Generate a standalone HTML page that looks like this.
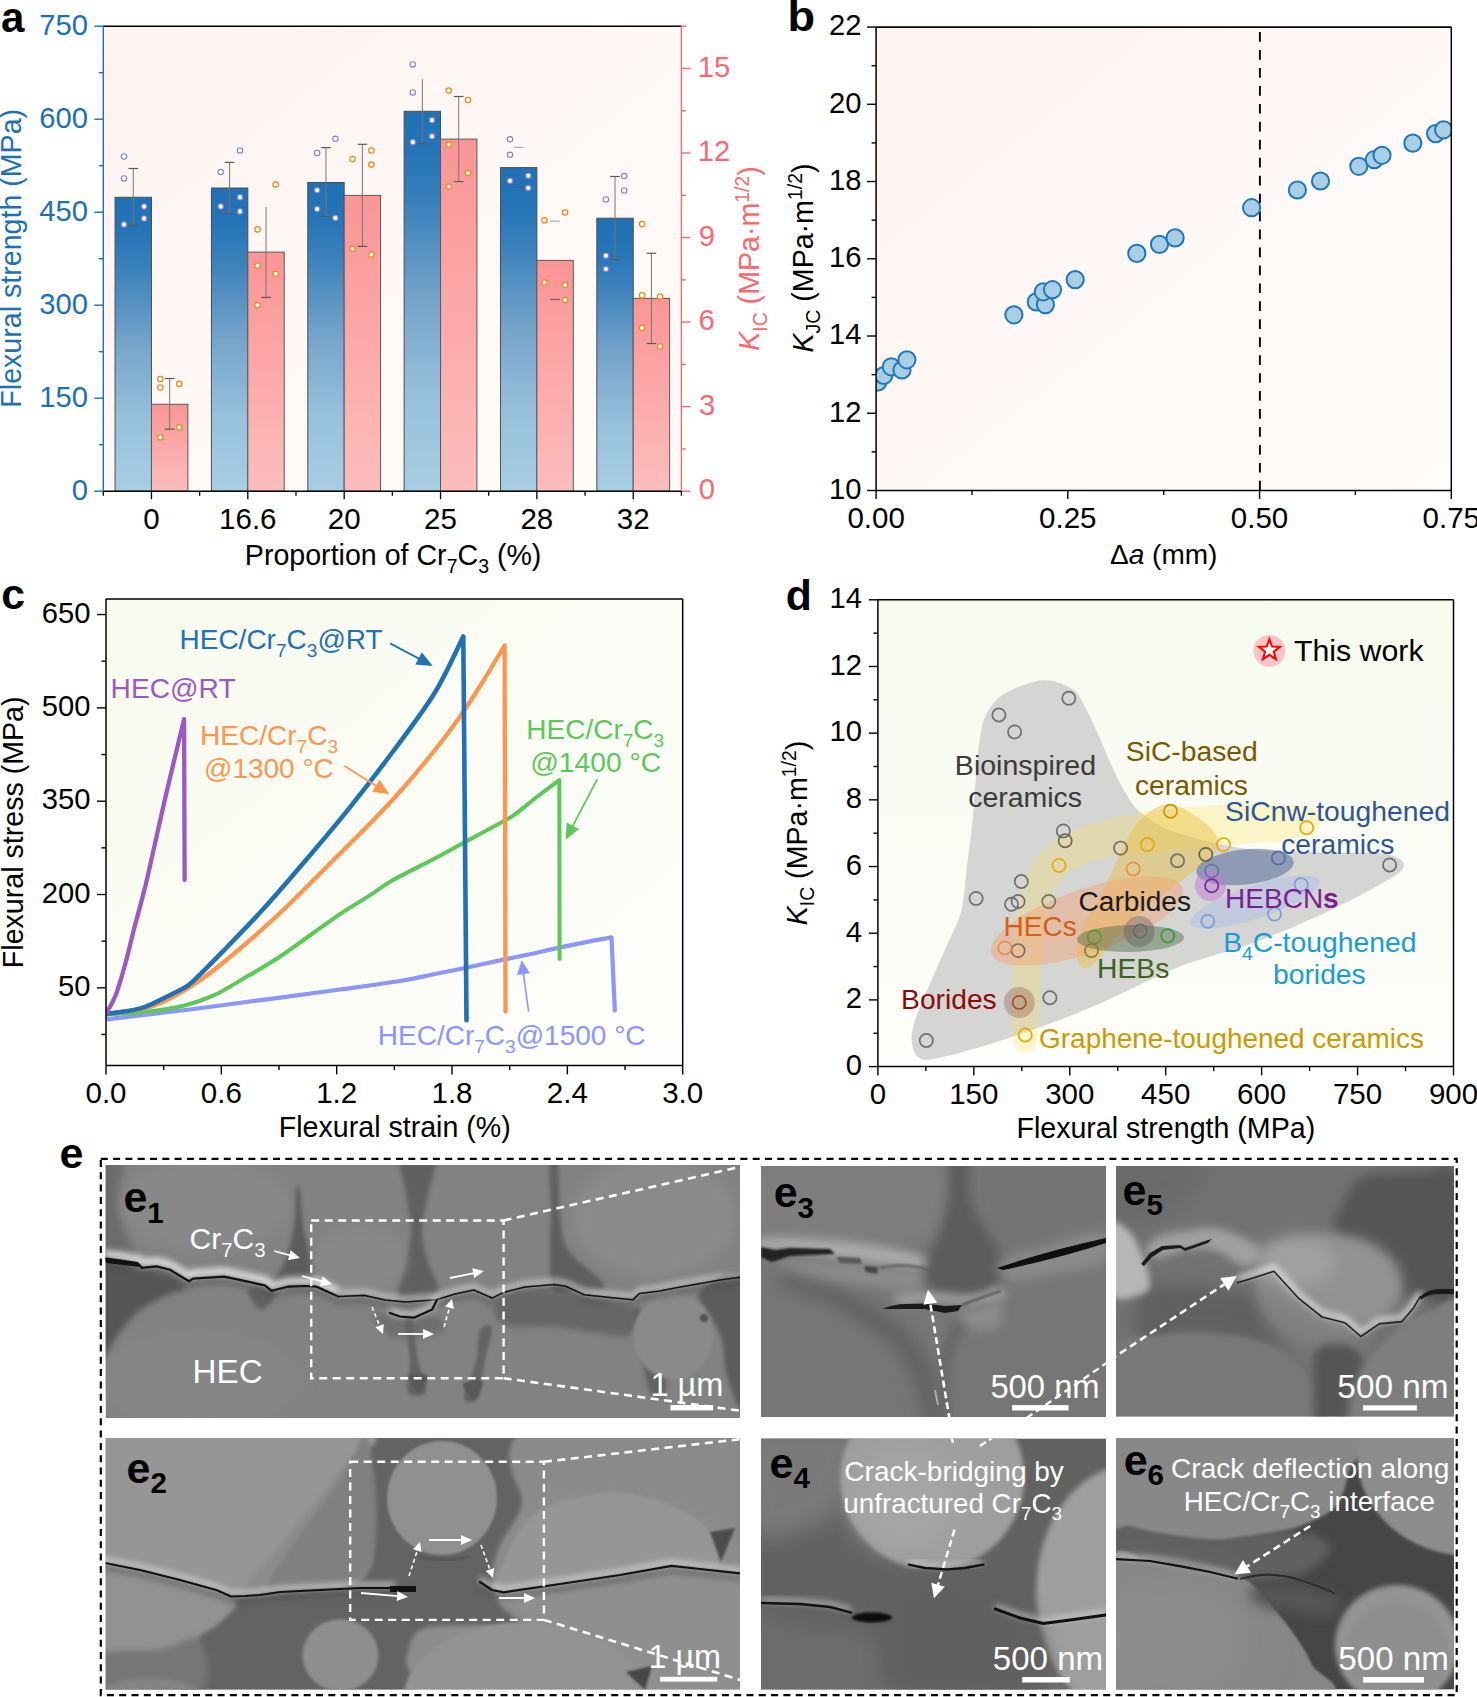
<!DOCTYPE html>
<html><head><meta charset="utf-8"><title>Figure</title>
<style>html,body{margin:0;padding:0;background:#fff;width:1477px;height:1697px;overflow:hidden}
svg{display:block} text{font-family:"Liberation Sans", sans-serif}</style></head>
<body>
<svg width="1477" height="1697" viewBox="0 0 1477 1697" font-family='"Liberation Sans", sans-serif'>
<defs><linearGradient id="bgA" x1="0" y1="0" x2="1" y2="1">
      <stop offset="0" stop-color="#fdf3f0"/><stop offset="0.5" stop-color="#fef8f6"/><stop offset="1" stop-color="#fffcf9"/></linearGradient>
      <linearGradient id="gBlue" x1="0" y1="0" x2="0" y2="1">
      <stop offset="0" stop-color="#2171b5"/><stop offset="0.1" stop-color="#2373b6"/><stop offset="0.25" stop-color="#3c82bc"/><stop offset="0.5" stop-color="#76a4ca"/><stop offset="0.75" stop-color="#96c0db"/><stop offset="1" stop-color="#a8cee4"/></linearGradient>
      <linearGradient id="gPink" x1="0" y1="0" x2="0" y2="1">
      <stop offset="0" stop-color="#fb9595"/><stop offset="1" stop-color="#fcbdbd"/></linearGradient><linearGradient id="bgB" x1="0" y1="0" x2="1" y2="1">
      <stop offset="0" stop-color="#fdf3f0"/><stop offset="0.5" stop-color="#fef8f6"/><stop offset="1" stop-color="#fffcf9"/></linearGradient>
      <clipPath id="clipB"><rect x="876.1" y="27.05" width="575.2" height="463.45"/></clipPath><linearGradient id="bgC" x1="0" y1="0" x2="1" y2="1">
      <stop offset="0" stop-color="#f8fbef"/><stop offset="0.5" stop-color="#fbfcf5"/><stop offset="1" stop-color="#fefefc"/></linearGradient>
      <clipPath id="clipC"><rect x="106" y="599" width="576.7" height="466.6"/></clipPath><linearGradient id="bgD" x1="0" y1="0" x2="0" y2="1">
      <stop offset="0" stop-color="#f7fbee"/><stop offset="0.6" stop-color="#fbfcf5"/><stop offset="1" stop-color="#fefefc"/></linearGradient>
      <clipPath id="clipD"><rect x="877.9" y="599.8" width="575.6" height="466.8"/></clipPath><filter id="b0_8" x="-50%" y="-50%" width="200%" height="200%"><feGaussianBlur stdDeviation="0.8"/></filter><filter id="b1" x="-50%" y="-50%" width="200%" height="200%"><feGaussianBlur stdDeviation="1"/></filter><filter id="b1_2" x="-50%" y="-50%" width="200%" height="200%"><feGaussianBlur stdDeviation="1.2"/></filter><filter id="b1_5" x="-50%" y="-50%" width="200%" height="200%"><feGaussianBlur stdDeviation="1.5"/></filter><filter id="b2" x="-50%" y="-50%" width="200%" height="200%"><feGaussianBlur stdDeviation="2"/></filter><filter id="b2_5" x="-50%" y="-50%" width="200%" height="200%"><feGaussianBlur stdDeviation="2.5"/></filter><filter id="b3" x="-50%" y="-50%" width="200%" height="200%"><feGaussianBlur stdDeviation="3"/></filter><filter id="b4" x="-50%" y="-50%" width="200%" height="200%"><feGaussianBlur stdDeviation="4"/></filter><filter id="b5" x="-50%" y="-50%" width="200%" height="200%"><feGaussianBlur stdDeviation="5"/></filter><filter id="b6" x="-50%" y="-50%" width="200%" height="200%"><feGaussianBlur stdDeviation="6"/></filter><filter id="b8" x="-50%" y="-50%" width="200%" height="200%"><feGaussianBlur stdDeviation="8"/></filter><filter id="b10" x="-50%" y="-50%" width="200%" height="200%"><feGaussianBlur stdDeviation="10"/></filter><filter id="b12" x="-50%" y="-50%" width="200%" height="200%"><feGaussianBlur stdDeviation="12"/></filter><filter id="b14" x="-50%" y="-50%" width="200%" height="200%"><feGaussianBlur stdDeviation="14"/></filter><filter id="b20" x="-50%" y="-50%" width="200%" height="200%"><feGaussianBlur stdDeviation="20"/></filter><clipPath id="ce1"><rect x="105.6" y="1165" width="634.4" height="253"/></clipPath><clipPath id="ce2"><rect x="105.6" y="1438" width="634.4" height="251.6"/></clipPath><clipPath id="ce3"><rect x="761" y="1166" width="345" height="251"/></clipPath><clipPath id="ce4"><rect x="761" y="1438.4" width="345" height="251.2"/></clipPath><clipPath id="ce5"><rect x="1116" y="1166" width="338" height="250.5"/></clipPath><clipPath id="ce6"><rect x="1116" y="1438.3" width="338" height="251.3"/></clipPath></defs>
<rect width="1477" height="1697" fill="#fff"/>
<rect x="103.3" y="26.2" width="578.1" height="465" fill="url(#bgA)" />
<rect x="115.07" y="197.3" width="36.4" height="293.9" fill="url(#gBlue)" stroke="#4d4d4d" stroke-width="1"/>
<rect x="151.47" y="404.3" width="36.4" height="86.9" fill="url(#gPink)" stroke="#5a5a5a" stroke-width="1"/>
<rect x="211.42" y="188" width="36.4" height="303.2" fill="url(#gBlue)" stroke="#4d4d4d" stroke-width="1"/>
<rect x="247.82" y="252.1" width="36.4" height="239.1" fill="url(#gPink)" stroke="#5a5a5a" stroke-width="1"/>
<rect x="307.78" y="182.5" width="36.4" height="308.7" fill="url(#gBlue)" stroke="#4d4d4d" stroke-width="1"/>
<rect x="344.18" y="195.4" width="36.4" height="295.8" fill="url(#gPink)" stroke="#5a5a5a" stroke-width="1"/>
<rect x="404.13" y="111.3" width="36.4" height="379.9" fill="url(#gBlue)" stroke="#4d4d4d" stroke-width="1"/>
<rect x="440.53" y="139.1" width="36.4" height="352.1" fill="url(#gPink)" stroke="#5a5a5a" stroke-width="1"/>
<rect x="500.48" y="167.6" width="36.4" height="323.6" fill="url(#gBlue)" stroke="#4d4d4d" stroke-width="1"/>
<rect x="536.88" y="260.4" width="36.4" height="230.8" fill="url(#gPink)" stroke="#5a5a5a" stroke-width="1"/>
<rect x="596.83" y="218.2" width="36.4" height="273" fill="url(#gBlue)" stroke="#4d4d4d" stroke-width="1"/>
<rect x="633.23" y="298.4" width="36.4" height="192.8" fill="url(#gPink)" stroke="#5a5a5a" stroke-width="1"/>
<line x1="133.28" y1="168.5" x2="133.28" y2="225.6" stroke="#777" stroke-width="1" />
<line x1="128.47" y1="168.5" x2="138.08" y2="168.5" stroke="#5a5a5a" stroke-width="1.2" />
<line x1="128.47" y1="225.6" x2="138.08" y2="225.6" stroke="#5a5a5a" stroke-width="1.2" />
<line x1="169.67" y1="378.5" x2="169.67" y2="429.2" stroke="#777" stroke-width="1" />
<line x1="164.87" y1="378.5" x2="174.47" y2="378.5" stroke="#5a5a5a" stroke-width="1.2" />
<line x1="164.87" y1="429.2" x2="174.47" y2="429.2" stroke="#5a5a5a" stroke-width="1.2" />
<line x1="229.62" y1="162.4" x2="229.62" y2="213.4" stroke="#777" stroke-width="1" />
<line x1="224.82" y1="162.4" x2="234.43" y2="162.4" stroke="#5a5a5a" stroke-width="1.2" />
<line x1="224.82" y1="213.4" x2="234.43" y2="213.4" stroke="#5a5a5a" stroke-width="1.2" />
<line x1="266.02" y1="207" x2="266.02" y2="297.4" stroke="#777" stroke-width="1" />
<line x1="261.22" y1="297.4" x2="270.82" y2="297.4" stroke="#5a5a5a" stroke-width="1.2" />
<line x1="325.98" y1="147.6" x2="325.98" y2="216.4" stroke="#777" stroke-width="1" />
<line x1="321.18" y1="147.6" x2="330.78" y2="147.6" stroke="#5a5a5a" stroke-width="1.2" />
<line x1="321.18" y1="216.4" x2="330.78" y2="216.4" stroke="#5a5a5a" stroke-width="1.2" />
<line x1="362.38" y1="144.3" x2="362.38" y2="246.4" stroke="#777" stroke-width="1" />
<line x1="357.57" y1="144.3" x2="367.18" y2="144.3" stroke="#5a5a5a" stroke-width="1.2" />
<line x1="357.57" y1="246.4" x2="367.18" y2="246.4" stroke="#5a5a5a" stroke-width="1.2" />
<line x1="422.33" y1="79.2" x2="422.33" y2="143.6" stroke="#777" stroke-width="1" />
<line x1="417.53" y1="143.6" x2="427.13" y2="143.6" stroke="#5a5a5a" stroke-width="1.2" />
<line x1="458.73" y1="96.5" x2="458.73" y2="181.6" stroke="#777" stroke-width="1" />
<line x1="453.93" y1="96.5" x2="463.53" y2="96.5" stroke="#5a5a5a" stroke-width="1.2" />
<line x1="453.93" y1="181.6" x2="463.53" y2="181.6" stroke="#5a5a5a" stroke-width="1.2" />
<line x1="513.88" y1="147.3" x2="523.47" y2="147.3" stroke="#9a9a9a" stroke-width="1" />
<line x1="513.88" y1="187.3" x2="523.47" y2="187.3" stroke="#5a5a5a" stroke-width="1" />
<line x1="550.28" y1="221.2" x2="559.88" y2="221.2" stroke="#9a9a9a" stroke-width="1" />
<line x1="550.28" y1="299.4" x2="559.88" y2="299.4" stroke="#5a5a5a" stroke-width="1" />
<line x1="615.02" y1="176.5" x2="615.02" y2="259.4" stroke="#777" stroke-width="1" />
<line x1="610.23" y1="176.5" x2="619.82" y2="176.5" stroke="#5a5a5a" stroke-width="1.2" />
<line x1="610.23" y1="259.4" x2="619.82" y2="259.4" stroke="#5a5a5a" stroke-width="1.2" />
<line x1="651.43" y1="253.3" x2="651.43" y2="343.5" stroke="#777" stroke-width="1" />
<line x1="646.63" y1="253.3" x2="656.23" y2="253.3" stroke="#5a5a5a" stroke-width="1.2" />
<line x1="646.63" y1="343.5" x2="656.23" y2="343.5" stroke="#5a5a5a" stroke-width="1.2" />
<circle cx="124" cy="156.5" r="2.7" fill="#fff" stroke="#7f7fd8" stroke-width="1.1" />
<circle cx="124" cy="178.4" r="2.7" fill="#fff" stroke="#7f7fd8" stroke-width="1.1" />
<circle cx="144.1" cy="206.5" r="2.7" fill="#fff" stroke="#7f7fd8" stroke-width="1.1" />
<circle cx="144.1" cy="218.5" r="2.7" fill="#fff" stroke="#7f7fd8" stroke-width="1.1" />
<circle cx="124" cy="224.5" r="2.7" fill="#fff" stroke="#7f7fd8" stroke-width="1.1" />
<circle cx="240" cy="150.4" r="2.7" fill="#fff" stroke="#7f7fd8" stroke-width="1.1" />
<circle cx="220.7" cy="172.1" r="2.7" fill="#fff" stroke="#7f7fd8" stroke-width="1.1" />
<circle cx="240" cy="197.3" r="2.7" fill="#fff" stroke="#7f7fd8" stroke-width="1.1" />
<circle cx="220.7" cy="206.5" r="2.7" fill="#fff" stroke="#7f7fd8" stroke-width="1.1" />
<circle cx="240" cy="211.5" r="2.7" fill="#fff" stroke="#7f7fd8" stroke-width="1.1" />
<circle cx="335.4" cy="138.8" r="2.7" fill="#fff" stroke="#7f7fd8" stroke-width="1.1" />
<circle cx="317.1" cy="153" r="2.7" fill="#fff" stroke="#7f7fd8" stroke-width="1.1" />
<circle cx="317.1" cy="190.2" r="2.7" fill="#fff" stroke="#7f7fd8" stroke-width="1.1" />
<circle cx="317.1" cy="209.1" r="2.7" fill="#fff" stroke="#7f7fd8" stroke-width="1.1" />
<circle cx="335.4" cy="218" r="2.7" fill="#fff" stroke="#7f7fd8" stroke-width="1.1" />
<circle cx="412.8" cy="64.4" r="2.7" fill="#fff" stroke="#7f7fd8" stroke-width="1.1" />
<circle cx="412.8" cy="92.4" r="2.7" fill="#fff" stroke="#7f7fd8" stroke-width="1.1" />
<circle cx="432" cy="120.2" r="2.7" fill="#fff" stroke="#7f7fd8" stroke-width="1.1" />
<circle cx="432" cy="136.3" r="2.7" fill="#fff" stroke="#7f7fd8" stroke-width="1.1" />
<circle cx="412.8" cy="142.2" r="2.7" fill="#fff" stroke="#7f7fd8" stroke-width="1.1" />
<circle cx="510" cy="139.3" r="2.7" fill="#fff" stroke="#7f7fd8" stroke-width="1.1" />
<circle cx="510" cy="154.8" r="2.7" fill="#fff" stroke="#7f7fd8" stroke-width="1.1" />
<circle cx="528.3" cy="175.7" r="2.7" fill="#fff" stroke="#7f7fd8" stroke-width="1.1" />
<circle cx="510" cy="180.8" r="2.7" fill="#fff" stroke="#7f7fd8" stroke-width="1.1" />
<circle cx="528.3" cy="187.9" r="2.7" fill="#fff" stroke="#7f7fd8" stroke-width="1.1" />
<circle cx="624.2" cy="176.1" r="2.7" fill="#fff" stroke="#7f7fd8" stroke-width="1.1" />
<circle cx="624.2" cy="190.5" r="2.7" fill="#fff" stroke="#7f7fd8" stroke-width="1.1" />
<circle cx="605.9" cy="199.5" r="2.7" fill="#fff" stroke="#7f7fd8" stroke-width="1.1" />
<circle cx="605.9" cy="255.7" r="2.7" fill="#fff" stroke="#7f7fd8" stroke-width="1.1" />
<circle cx="605.9" cy="269.1" r="2.7" fill="#fff" stroke="#7f7fd8" stroke-width="1.1" />
<circle cx="160.3" cy="379" r="2.7" fill="#fff" stroke="#f5870f" stroke-width="1.2" />
<circle cx="160.3" cy="387.6" r="2.7" fill="#fff" stroke="#f5870f" stroke-width="1.2" />
<circle cx="179.2" cy="383.9" r="2.7" fill="#fff" stroke="#f5870f" stroke-width="1.2" />
<circle cx="179.2" cy="427.4" r="2.7" fill="#fff" stroke="#f5870f" stroke-width="1.2" />
<circle cx="160.3" cy="437.4" r="2.7" fill="#fff" stroke="#f5870f" stroke-width="1.2" />
<circle cx="275.7" cy="184.5" r="2.7" fill="#fff" stroke="#f5870f" stroke-width="1.2" />
<circle cx="257.6" cy="229.4" r="2.7" fill="#fff" stroke="#f5870f" stroke-width="1.2" />
<circle cx="257.6" cy="265.7" r="2.7" fill="#fff" stroke="#f5870f" stroke-width="1.2" />
<circle cx="275.7" cy="273.8" r="2.7" fill="#fff" stroke="#f5870f" stroke-width="1.2" />
<circle cx="257.6" cy="305.1" r="2.7" fill="#fff" stroke="#f5870f" stroke-width="1.2" />
<circle cx="371.4" cy="150.6" r="2.7" fill="#fff" stroke="#f5870f" stroke-width="1.2" />
<circle cx="352.5" cy="159.1" r="2.7" fill="#fff" stroke="#f5870f" stroke-width="1.2" />
<circle cx="371.4" cy="164.6" r="2.7" fill="#fff" stroke="#f5870f" stroke-width="1.2" />
<circle cx="352.5" cy="248.9" r="2.7" fill="#fff" stroke="#f5870f" stroke-width="1.2" />
<circle cx="371.4" cy="254.6" r="2.7" fill="#fff" stroke="#f5870f" stroke-width="1.2" />
<circle cx="448.7" cy="90.6" r="2.7" fill="#fff" stroke="#f5870f" stroke-width="1.2" />
<circle cx="468" cy="100.1" r="2.7" fill="#fff" stroke="#f5870f" stroke-width="1.2" />
<circle cx="448.7" cy="144.6" r="2.7" fill="#fff" stroke="#f5870f" stroke-width="1.2" />
<circle cx="468" cy="173" r="2.7" fill="#fff" stroke="#f5870f" stroke-width="1.2" />
<circle cx="448.7" cy="186.5" r="2.7" fill="#fff" stroke="#f5870f" stroke-width="1.2" />
<circle cx="565.1" cy="212.5" r="2.7" fill="#fff" stroke="#f5870f" stroke-width="1.2" />
<circle cx="544.4" cy="220.4" r="2.7" fill="#fff" stroke="#f5870f" stroke-width="1.2" />
<circle cx="544.4" cy="282.6" r="2.7" fill="#fff" stroke="#f5870f" stroke-width="1.2" />
<circle cx="565.1" cy="285" r="2.7" fill="#fff" stroke="#f5870f" stroke-width="1.2" />
<circle cx="565.1" cy="299.8" r="2.7" fill="#fff" stroke="#f5870f" stroke-width="1.2" />
<circle cx="642.1" cy="224.1" r="2.7" fill="#fff" stroke="#f5870f" stroke-width="1.2" />
<circle cx="642.1" cy="295.4" r="2.7" fill="#fff" stroke="#f5870f" stroke-width="1.2" />
<circle cx="660.2" cy="296.6" r="2.7" fill="#fff" stroke="#f5870f" stroke-width="1.2" />
<circle cx="642.1" cy="327.9" r="2.7" fill="#fff" stroke="#f5870f" stroke-width="1.2" />
<circle cx="660.2" cy="346.6" r="2.7" fill="#fff" stroke="#f5870f" stroke-width="1.2" />
<line x1="103.3" y1="26.2" x2="681.4" y2="26.2" stroke="#000" stroke-width="1.4" />
<line x1="103.3" y1="491.2" x2="681.4" y2="491.2" stroke="#000" stroke-width="1.6" />
<line x1="103.3" y1="25.5" x2="103.3" y2="491.2" stroke="#1f70b3" stroke-width="1.4" />
<line x1="681.4" y1="25.5" x2="681.4" y2="491.2" stroke="#f76a70" stroke-width="1.4" />
<line x1="94.3" y1="491.2" x2="103.3" y2="491.2" stroke="#1f70b3" stroke-width="1.4" />
<text x="88" y="499.5" font-size="29.2" fill="#1f70b3" text-anchor="end" font-weight="normal" >0</text>
<line x1="98.8" y1="444.7" x2="103.3" y2="444.7" stroke="#1f70b3" stroke-width="1.4" />
<line x1="94.3" y1="398.2" x2="103.3" y2="398.2" stroke="#1f70b3" stroke-width="1.4" />
<text x="88" y="406.5" font-size="29.2" fill="#1f70b3" text-anchor="end" font-weight="normal" >150</text>
<line x1="98.8" y1="351.7" x2="103.3" y2="351.7" stroke="#1f70b3" stroke-width="1.4" />
<line x1="94.3" y1="305.2" x2="103.3" y2="305.2" stroke="#1f70b3" stroke-width="1.4" />
<text x="88" y="313.5" font-size="29.2" fill="#1f70b3" text-anchor="end" font-weight="normal" >300</text>
<line x1="98.8" y1="258.7" x2="103.3" y2="258.7" stroke="#1f70b3" stroke-width="1.4" />
<line x1="94.3" y1="212.2" x2="103.3" y2="212.2" stroke="#1f70b3" stroke-width="1.4" />
<text x="88" y="220.5" font-size="29.2" fill="#1f70b3" text-anchor="end" font-weight="normal" >450</text>
<line x1="98.8" y1="165.7" x2="103.3" y2="165.7" stroke="#1f70b3" stroke-width="1.4" />
<line x1="94.3" y1="119.2" x2="103.3" y2="119.2" stroke="#1f70b3" stroke-width="1.4" />
<text x="88" y="127.5" font-size="29.2" fill="#1f70b3" text-anchor="end" font-weight="normal" >600</text>
<line x1="98.8" y1="72.7" x2="103.3" y2="72.7" stroke="#1f70b3" stroke-width="1.4" />
<line x1="94.3" y1="26.2" x2="103.3" y2="26.2" stroke="#1f70b3" stroke-width="1.4" />
<text x="88" y="34.5" font-size="29.2" fill="#1f70b3" text-anchor="end" font-weight="normal" >750</text>
<line x1="681.4" y1="491.2" x2="690.4" y2="491.2" stroke="#f76a70" stroke-width="1.4" />
<text x="698.86" y="499.3" font-size="29.2" fill="#f76a70" text-anchor="start" font-weight="normal" >0</text>
<line x1="681.4" y1="448.93" x2="685.9" y2="448.93" stroke="#f76a70" stroke-width="1.4" />
<line x1="681.4" y1="406.65" x2="690.4" y2="406.65" stroke="#f76a70" stroke-width="1.4" />
<text x="698.89" y="414.75" font-size="29.2" fill="#f76a70" text-anchor="start" font-weight="normal" >3</text>
<line x1="681.4" y1="364.38" x2="685.9" y2="364.38" stroke="#f76a70" stroke-width="1.4" />
<line x1="681.4" y1="322.11" x2="690.4" y2="322.11" stroke="#f76a70" stroke-width="1.4" />
<text x="698.52" y="330.21" font-size="29.2" fill="#f76a70" text-anchor="start" font-weight="normal" >6</text>
<line x1="681.4" y1="279.84" x2="685.9" y2="279.84" stroke="#f76a70" stroke-width="1.4" />
<line x1="681.4" y1="237.56" x2="690.4" y2="237.56" stroke="#f76a70" stroke-width="1.4" />
<text x="698.63" y="245.66" font-size="29.2" fill="#f76a70" text-anchor="start" font-weight="normal" >9</text>
<line x1="681.4" y1="195.29" x2="685.9" y2="195.29" stroke="#f76a70" stroke-width="1.4" />
<line x1="681.4" y1="153.02" x2="690.4" y2="153.02" stroke="#f76a70" stroke-width="1.4" />
<text x="697.78" y="161.12" font-size="29.2" fill="#f76a70" text-anchor="start" font-weight="normal" >12</text>
<line x1="681.4" y1="110.75" x2="685.9" y2="110.75" stroke="#f76a70" stroke-width="1.4" />
<line x1="681.4" y1="68.47" x2="690.4" y2="68.47" stroke="#f76a70" stroke-width="1.4" />
<text x="697.78" y="76.57" font-size="29.2" fill="#f76a70" text-anchor="start" font-weight="normal" >15</text>
<line x1="681.4" y1="26.2" x2="685.9" y2="26.2" stroke="#f76a70" stroke-width="1.4" />
<line x1="103.3" y1="491.2" x2="103.3" y2="495.7" stroke="#000" stroke-width="1.3" />
<line x1="199.65" y1="491.2" x2="199.65" y2="495.7" stroke="#000" stroke-width="1.3" />
<line x1="296" y1="491.2" x2="296" y2="495.7" stroke="#000" stroke-width="1.3" />
<line x1="392.35" y1="491.2" x2="392.35" y2="495.7" stroke="#000" stroke-width="1.3" />
<line x1="488.7" y1="491.2" x2="488.7" y2="495.7" stroke="#000" stroke-width="1.3" />
<line x1="585.05" y1="491.2" x2="585.05" y2="495.7" stroke="#000" stroke-width="1.3" />
<line x1="681.4" y1="491.2" x2="681.4" y2="495.7" stroke="#000" stroke-width="1.3" />
<line x1="151.47" y1="491.2" x2="151.47" y2="499.2" stroke="#000" stroke-width="1.3" />
<text x="151.47" y="528.6" font-size="29.5" fill="#000" text-anchor="middle" font-weight="normal" >0</text>
<line x1="247.82" y1="491.2" x2="247.82" y2="499.2" stroke="#000" stroke-width="1.3" />
<text x="247.82" y="528.6" font-size="29.5" fill="#000" text-anchor="middle" font-weight="normal" >16.6</text>
<line x1="344.18" y1="491.2" x2="344.18" y2="499.2" stroke="#000" stroke-width="1.3" />
<text x="344.18" y="528.6" font-size="29.5" fill="#000" text-anchor="middle" font-weight="normal" >20</text>
<line x1="440.53" y1="491.2" x2="440.53" y2="499.2" stroke="#000" stroke-width="1.3" />
<text x="440.53" y="528.6" font-size="29.5" fill="#000" text-anchor="middle" font-weight="normal" >25</text>
<line x1="536.88" y1="491.2" x2="536.88" y2="499.2" stroke="#000" stroke-width="1.3" />
<text x="536.88" y="528.6" font-size="29.5" fill="#000" text-anchor="middle" font-weight="normal" >28</text>
<line x1="633.23" y1="491.2" x2="633.23" y2="499.2" stroke="#000" stroke-width="1.3" />
<text x="633.23" y="528.6" font-size="29.5" fill="#000" text-anchor="middle" font-weight="normal" >32</text>
<text x="393.1" y="564.8" font-size="28.6" fill="#000" text-anchor="middle" ><tspan>Proportion of Cr</tspan><tspan font-size="19.45" dy="7.72">7</tspan><tspan dy="-7.72">C</tspan><tspan font-size="19.45" dy="7.72">3</tspan><tspan dy="-7.72"> (%)</tspan></text>
<text transform="translate(21.3,258.3) rotate(-90)" font-size="28.6" fill="#1f70b3" text-anchor="middle"><tspan>Flexural strength (MPa)</tspan></text>
<text transform="translate(759.4,258.5) rotate(-90)" font-size="28.6" fill="#f76a70" text-anchor="middle"><tspan font-style="italic" dy="-0">K</tspan><tspan font-size="19.45" dy="7.72">IC</tspan><tspan dy="-7.72"> (MPa·m</tspan><tspan font-size="19.45" dy="-10.3">1/2</tspan><tspan dy="10.3">)</tspan></text>
<text x="1.07" y="32.4" font-size="42" fill="#000" text-anchor="start" font-weight="bold" >a</text>
<rect x="876.1" y="27.05" width="575.2" height="463.45" fill="url(#bgB)" />
<line x1="1259.9" y1="32.1" x2="1259.9" y2="490.5" stroke="#000" stroke-width="1.9" stroke-dasharray="9.7 8.25"/>
<g clip-path="url(#clipB)">
<circle cx="877.9" cy="382" r="8.6" fill="#a9cfe4" stroke="#1f77bb" stroke-width="2" />
<circle cx="883.8" cy="375.5" r="8.6" fill="#a9cfe4" stroke="#1f77bb" stroke-width="2" />
<circle cx="891.3" cy="366.8" r="8.6" fill="#a9cfe4" stroke="#1f77bb" stroke-width="2" />
<circle cx="902" cy="370" r="8.6" fill="#a9cfe4" stroke="#1f77bb" stroke-width="2" />
<circle cx="906.9" cy="359.8" r="8.6" fill="#a9cfe4" stroke="#1f77bb" stroke-width="2" />
<circle cx="1013.9" cy="314.8" r="8.6" fill="#a9cfe4" stroke="#1f77bb" stroke-width="2" />
<circle cx="1036.3" cy="301.9" r="8.6" fill="#a9cfe4" stroke="#1f77bb" stroke-width="2" />
<circle cx="1045.4" cy="304.6" r="8.6" fill="#a9cfe4" stroke="#1f77bb" stroke-width="2" />
<circle cx="1043.3" cy="291.8" r="8.6" fill="#a9cfe4" stroke="#1f77bb" stroke-width="2" />
<circle cx="1052.5" cy="289.7" r="8.6" fill="#a9cfe4" stroke="#1f77bb" stroke-width="2" />
<circle cx="1075.2" cy="279.6" r="8.6" fill="#a9cfe4" stroke="#1f77bb" stroke-width="2" />
<circle cx="1136.8" cy="253.4" r="8.6" fill="#a9cfe4" stroke="#1f77bb" stroke-width="2" />
<circle cx="1159.5" cy="244.4" r="8.6" fill="#a9cfe4" stroke="#1f77bb" stroke-width="2" />
<circle cx="1175.1" cy="237.9" r="8.6" fill="#a9cfe4" stroke="#1f77bb" stroke-width="2" />
<circle cx="1251.6" cy="207.7" r="8.6" fill="#a9cfe4" stroke="#1f77bb" stroke-width="2" />
<circle cx="1297.4" cy="190" r="8.6" fill="#a9cfe4" stroke="#1f77bb" stroke-width="2" />
<circle cx="1320.5" cy="181" r="8.6" fill="#a9cfe4" stroke="#1f77bb" stroke-width="2" />
<circle cx="1358.8" cy="166.3" r="8.6" fill="#a9cfe4" stroke="#1f77bb" stroke-width="2" />
<circle cx="1374.3" cy="159.7" r="8.6" fill="#a9cfe4" stroke="#1f77bb" stroke-width="2" />
<circle cx="1382" cy="155.3" r="8.6" fill="#a9cfe4" stroke="#1f77bb" stroke-width="2" />
<circle cx="1412.8" cy="143.1" r="8.6" fill="#a9cfe4" stroke="#1f77bb" stroke-width="2" />
<circle cx="1435.6" cy="133.6" r="8.6" fill="#a9cfe4" stroke="#1f77bb" stroke-width="2" />
<circle cx="1443.6" cy="129.8" r="8.6" fill="#a9cfe4" stroke="#1f77bb" stroke-width="2" />
</g>
<line x1="876.1" y1="27.05" x2="1451.3" y2="27.05" stroke="#000" stroke-width="1.8" />
<line x1="876.1" y1="490.5" x2="1451.3" y2="490.5" stroke="#000" stroke-width="1.6" />
<line x1="876.1" y1="27.05" x2="876.1" y2="490.5" stroke="#000" stroke-width="1.5" />
<line x1="1451.3" y1="27.05" x2="1451.3" y2="490.5" stroke="#000" stroke-width="1.5" />
<line x1="867.1" y1="490.5" x2="876.1" y2="490.5" stroke="#000" stroke-width="1.4" />
<text x="861.5" y="498.8" font-size="29.2" fill="#000" text-anchor="end" font-weight="normal" >10</text>
<line x1="871.6" y1="451.88" x2="876.1" y2="451.88" stroke="#000" stroke-width="1.4" />
<line x1="867.1" y1="413.26" x2="876.1" y2="413.26" stroke="#000" stroke-width="1.4" />
<text x="861.5" y="421.56" font-size="29.2" fill="#000" text-anchor="end" font-weight="normal" >12</text>
<line x1="871.6" y1="374.64" x2="876.1" y2="374.64" stroke="#000" stroke-width="1.4" />
<line x1="867.1" y1="336.02" x2="876.1" y2="336.02" stroke="#000" stroke-width="1.4" />
<text x="861.5" y="344.32" font-size="29.2" fill="#000" text-anchor="end" font-weight="normal" >14</text>
<line x1="871.6" y1="297.4" x2="876.1" y2="297.4" stroke="#000" stroke-width="1.4" />
<line x1="867.1" y1="258.78" x2="876.1" y2="258.78" stroke="#000" stroke-width="1.4" />
<text x="861.5" y="267.08" font-size="29.2" fill="#000" text-anchor="end" font-weight="normal" >16</text>
<line x1="871.6" y1="220.15" x2="876.1" y2="220.15" stroke="#000" stroke-width="1.4" />
<line x1="867.1" y1="181.53" x2="876.1" y2="181.53" stroke="#000" stroke-width="1.4" />
<text x="861.5" y="189.83" font-size="29.2" fill="#000" text-anchor="end" font-weight="normal" >18</text>
<line x1="871.6" y1="142.91" x2="876.1" y2="142.91" stroke="#000" stroke-width="1.4" />
<line x1="867.1" y1="104.29" x2="876.1" y2="104.29" stroke="#000" stroke-width="1.4" />
<text x="861.5" y="112.59" font-size="29.2" fill="#000" text-anchor="end" font-weight="normal" >20</text>
<line x1="871.6" y1="65.67" x2="876.1" y2="65.67" stroke="#000" stroke-width="1.4" />
<line x1="867.1" y1="27.05" x2="876.1" y2="27.05" stroke="#000" stroke-width="1.4" />
<text x="861.5" y="35.35" font-size="29.2" fill="#000" text-anchor="end" font-weight="normal" >22</text>
<line x1="876.1" y1="490.5" x2="876.1" y2="499" stroke="#000" stroke-width="1.4" />
<text x="876.1" y="527.6" font-size="29.5" fill="#000" text-anchor="middle" font-weight="normal" >0.00</text>
<line x1="971.97" y1="490.5" x2="971.97" y2="495" stroke="#000" stroke-width="1.4" />
<line x1="1067.83" y1="490.5" x2="1067.83" y2="499" stroke="#000" stroke-width="1.4" />
<text x="1067.83" y="527.6" font-size="29.5" fill="#000" text-anchor="middle" font-weight="normal" >0.25</text>
<line x1="1163.7" y1="490.5" x2="1163.7" y2="495" stroke="#000" stroke-width="1.4" />
<line x1="1259.57" y1="490.5" x2="1259.57" y2="499" stroke="#000" stroke-width="1.4" />
<text x="1259.57" y="527.6" font-size="29.5" fill="#000" text-anchor="middle" font-weight="normal" >0.50</text>
<line x1="1355.43" y1="490.5" x2="1355.43" y2="495" stroke="#000" stroke-width="1.4" />
<line x1="1451.3" y1="490.5" x2="1451.3" y2="499" stroke="#000" stroke-width="1.4" />
<text x="1451.3" y="527.6" font-size="29.5" fill="#000" text-anchor="middle" font-weight="normal" >0.75</text>
<text x="1163.7" y="564" font-size="28" fill="#000" text-anchor="middle" font-weight="normal" ><tspan>Δ</tspan><tspan font-style="italic">a</tspan> (mm)</text>
<text transform="translate(812.5,258) rotate(-90)" font-size="28.6" fill="#000" text-anchor="middle"><tspan font-style="italic" dy="-0">K</tspan><tspan font-size="19.45" dy="7.72">JC</tspan><tspan dy="-7.72"> (MPa·m</tspan><tspan font-size="19.45" dy="-10.3">1/2</tspan><tspan dy="10.3">)</tspan></text>
<text x="787.53" y="30.5" font-size="42.7" fill="#000" text-anchor="start" font-weight="bold"  textLength="27.57" lengthAdjust="spacingAndGlyphs">b</text>
<rect x="106" y="599" width="576.7" height="466.6" fill="url(#bgC)" />
<g clip-path="url(#clipC)" stroke-linejoin="round" stroke-linecap="round" fill="none">
<path d="M106.5,1019.4 C113.53,1018.55 133.53,1016.12 148.7,1014.3 C163.87,1012.48 181.25,1010.55 197.5,1008.5 C213.75,1006.45 229.95,1004.15 246.2,1002 C262.45,999.85 279.37,997.68 295,995.6 C310.63,993.52 322.5,991.93 340,989.5 C357.5,987.07 384.58,983.5 400,981 C415.42,978.5 421.67,976.67 432.5,974.5 C443.33,972.33 454.17,970.27 465,968 C475.83,965.73 486.67,963.2 497.5,960.9 C508.33,958.6 519.17,956.53 530,954.2 C540.83,951.87 548.92,949.72 562.5,946.9 C576.08,944.08 603.33,938.9 611.5,937.3 L614.8,1010.3" fill="none" stroke="#8c96ff" stroke-width="4.2" />
<path d="M106.5,1014.5 C113.53,1014.02 135.7,1013.1 148.7,1011.6 C161.7,1010.1 173.67,1008.2 184.5,1005.5 C195.33,1002.8 203.83,999.9 213.7,995.4 C223.57,990.9 232.87,984.82 243.7,978.5 C254.53,972.18 267.45,964.83 278.7,957.5 C289.95,950.17 300.98,941.73 311.2,934.5 C321.42,927.27 330.03,920.75 340,914.1 C349.97,907.45 362.3,900.2 371,894.6 C379.7,889 381.6,886.52 392.2,880.5 C402.8,874.48 422.47,864.92 434.6,858.5 C446.73,852.08 454.52,847.67 465,842 C475.48,836.33 489.38,828.97 497.5,824.5 C505.62,820.03 506.93,819.95 513.7,815.2 C520.47,810.45 530.5,801.87 538.1,796 C545.7,790.13 555.77,782.67 559.3,780 L559.6,959" fill="none" stroke="#5cc85a" stroke-width="4" />
<path d="M106.5,1014 C112.18,1013.2 130.85,1011.37 140.6,1009.2 C150.35,1007.03 154.9,1005.95 165,1001 C175.1,996.05 188.08,988.75 201.2,979.5 C214.32,970.25 229.55,957.53 243.7,945.5 C257.85,933.47 271.97,920.73 286.1,907.3 C300.23,893.87 314.35,879.03 328.5,864.9 C342.65,850.77 358.62,835.23 371,822.5 C383.38,809.77 392.2,800.53 402.8,788.5 C413.4,776.47 425.05,762.32 434.6,750.3 C444.15,738.28 452.2,727.62 460.1,716.4 C468,705.18 474.58,694.82 482,683 C489.42,671.18 500.83,651.75 504.6,645.5 L505.5,1011.6" fill="none" stroke="#ff9650" stroke-width="4.3" />
<path d="M106.5,1014 C112.18,1013.07 130.85,1011.15 140.6,1008.4 C150.35,1005.65 158.43,1000.55 165,997.5 C171.57,994.45 175.38,992.75 180,990.1 C184.62,987.45 185.63,987.97 192.7,981.6 C199.77,975.23 210.37,964.28 222.4,951.9 C234.43,939.52 250.75,922.87 264.9,907.3 C279.05,891.73 293.17,875.12 307.3,858.5 C321.43,841.88 335.55,825.27 349.7,807.6 C363.85,789.93 378.05,771.6 392.2,752.5 C406.35,733.4 422.75,712.33 434.6,693 C446.45,673.67 458.52,645.92 463.3,636.5 L466.5,1020.3" fill="none" stroke="#2271b3" stroke-width="4.6" />
<path d="M106.5,1013.2 C108.12,1009.95 112.95,1002.37 116.2,993.7 C119.45,985.03 123.02,972.03 126,961.2 C128.98,950.37 131.67,938.17 134.1,928.7 C136.53,919.23 138.37,913.02 140.6,904.4 C142.83,895.78 143.43,894.57 147.5,877 C151.57,859.43 158.9,825.33 165,799 C171.1,772.67 180.92,732.33 184.1,719 L184.6,880" fill="none" stroke="#9b59c6" stroke-width="4.3" />
</g>
<line x1="390.1" y1="643.4" x2="420.32" y2="659.36" stroke="#2271b3" stroke-width="1.8" />
<path d="M432.7,665.9 L415.28,664.62 L421.82,652.24Z" fill="#2271b3" stroke="none" stroke-width="1" />
<line x1="344.5" y1="766.1" x2="377.53" y2="786.77" stroke="#ff9650" stroke-width="1.8" />
<path d="M389.4,794.2 L372.12,791.65 L379.55,779.78Z" fill="#ff9650" stroke="none" stroke-width="1" />
<line x1="597.3" y1="779.1" x2="572" y2="827.4" stroke="#5cc85a" stroke-width="1.8" />
<path d="M565.5,839.8 L566.72,822.38 L579.13,828.88Z" fill="#5cc85a" stroke="none" stroke-width="1" />
<line x1="528.6" y1="1011.6" x2="523.22" y2="972.09" stroke="#8c96ff" stroke-width="1.6" />
<path d="M521.6,960.2 L529.93,973.19 L517.05,974.95Z" fill="#8c96ff" stroke="none" stroke-width="1" />
<text x="179.5" y="649.4" font-size="28" fill="#2271b3" text-anchor="start"><tspan>HEC/Cr</tspan><tspan font-size="19.04" dy="7.56">7</tspan><tspan dy="-7.56">C</tspan><tspan font-size="19.04" dy="7.56">3</tspan><tspan dy="-7.56">@RT</tspan></text>
<text x="110.6" y="697.8" font-size="27.6" fill="#9b59c6" text-anchor="start" font-weight="normal"  textLength="125" lengthAdjust="spacingAndGlyphs">HEC@RT</text>
<text x="200.1" y="745.4" font-size="28" fill="#ff9650" text-anchor="start"><tspan>HEC/Cr</tspan><tspan font-size="19.04" dy="7.56">7</tspan><tspan dy="-7.56">C</tspan><tspan font-size="19.04" dy="7.56">3</tspan></text>
<text x="204.1" y="777.5" font-size="27.6" fill="#ff9650" text-anchor="start" font-weight="normal"  textLength="129.72" lengthAdjust="spacingAndGlyphs">@1300 °C</text>
<text x="526.3" y="739" font-size="28" fill="#5cc85a" text-anchor="start"><tspan>HEC/Cr</tspan><tspan font-size="19.04" dy="7.56">7</tspan><tspan dy="-7.56">C</tspan><tspan font-size="19.04" dy="7.56">3</tspan></text>
<text x="530.18" y="771.6" font-size="27.6" fill="#5cc85a" text-anchor="start" font-weight="normal"  textLength="131.02" lengthAdjust="spacingAndGlyphs">@1400 °C</text>
<text x="377.8" y="1045.4" font-size="28" fill="#8c96ff" text-anchor="start"><tspan>HEC/Cr</tspan><tspan font-size="19.04" dy="7.56">7</tspan><tspan dy="-7.56">C</tspan><tspan font-size="19.04" dy="7.56">3</tspan><tspan dy="-7.56">@1500 °C</tspan></text>
<line x1="106" y1="599" x2="682.7" y2="599" stroke="#000" stroke-width="1.4" />
<line x1="106" y1="1065.6" x2="682.7" y2="1065.6" stroke="#000" stroke-width="1.5" />
<line x1="106" y1="599" x2="106" y2="1065.6" stroke="#000" stroke-width="1.5" />
<line x1="682.7" y1="599" x2="682.7" y2="1065.6" stroke="#000" stroke-width="1.5" />
<line x1="101.5" y1="1034.49" x2="106" y2="1034.49" stroke="#000" stroke-width="1.4" />
<line x1="97" y1="987.83" x2="106" y2="987.83" stroke="#000" stroke-width="1.4" />
<text x="90.5" y="996.13" font-size="29.2" fill="#000" text-anchor="end" font-weight="normal" >50</text>
<line x1="101.5" y1="941.17" x2="106" y2="941.17" stroke="#000" stroke-width="1.4" />
<line x1="97" y1="894.51" x2="106" y2="894.51" stroke="#000" stroke-width="1.4" />
<text x="90.5" y="902.81" font-size="29.2" fill="#000" text-anchor="end" font-weight="normal" >200</text>
<line x1="101.5" y1="847.85" x2="106" y2="847.85" stroke="#000" stroke-width="1.4" />
<line x1="97" y1="801.19" x2="106" y2="801.19" stroke="#000" stroke-width="1.4" />
<text x="90.5" y="809.49" font-size="29.2" fill="#000" text-anchor="end" font-weight="normal" >350</text>
<line x1="101.5" y1="754.53" x2="106" y2="754.53" stroke="#000" stroke-width="1.4" />
<line x1="97" y1="707.87" x2="106" y2="707.87" stroke="#000" stroke-width="1.4" />
<text x="90.5" y="716.17" font-size="29.2" fill="#000" text-anchor="end" font-weight="normal" >500</text>
<line x1="101.5" y1="661.21" x2="106" y2="661.21" stroke="#000" stroke-width="1.4" />
<line x1="97" y1="614.55" x2="106" y2="614.55" stroke="#000" stroke-width="1.4" />
<text x="90.5" y="622.85" font-size="29.2" fill="#000" text-anchor="end" font-weight="normal" >650</text>
<line x1="106" y1="1065.6" x2="106" y2="1074.4" stroke="#000" stroke-width="1.4" />
<text x="106" y="1102.7" font-size="29.5" fill="#000" text-anchor="middle" font-weight="normal" >0.0</text>
<line x1="163.67" y1="1065.6" x2="163.67" y2="1070.1" stroke="#000" stroke-width="1.4" />
<line x1="221.34" y1="1065.6" x2="221.34" y2="1074.4" stroke="#000" stroke-width="1.4" />
<text x="221.34" y="1102.7" font-size="29.5" fill="#000" text-anchor="middle" font-weight="normal" >0.6</text>
<line x1="279.01" y1="1065.6" x2="279.01" y2="1070.1" stroke="#000" stroke-width="1.4" />
<line x1="336.68" y1="1065.6" x2="336.68" y2="1074.4" stroke="#000" stroke-width="1.4" />
<text x="336.68" y="1102.7" font-size="29.5" fill="#000" text-anchor="middle" font-weight="normal" >1.2</text>
<line x1="394.35" y1="1065.6" x2="394.35" y2="1070.1" stroke="#000" stroke-width="1.4" />
<line x1="452.02" y1="1065.6" x2="452.02" y2="1074.4" stroke="#000" stroke-width="1.4" />
<text x="452.02" y="1102.7" font-size="29.5" fill="#000" text-anchor="middle" font-weight="normal" >1.8</text>
<line x1="509.69" y1="1065.6" x2="509.69" y2="1070.1" stroke="#000" stroke-width="1.4" />
<line x1="567.36" y1="1065.6" x2="567.36" y2="1074.4" stroke="#000" stroke-width="1.4" />
<text x="567.36" y="1102.7" font-size="29.5" fill="#000" text-anchor="middle" font-weight="normal" >2.4</text>
<line x1="625.03" y1="1065.6" x2="625.03" y2="1070.1" stroke="#000" stroke-width="1.4" />
<line x1="682.7" y1="1065.6" x2="682.7" y2="1074.4" stroke="#000" stroke-width="1.4" />
<text x="682.7" y="1102.7" font-size="29.5" fill="#000" text-anchor="middle" font-weight="normal" >3.0</text>
<text x="394.8" y="1136.5" font-size="28.6" fill="#000" text-anchor="middle" font-weight="normal" >Flexural strain (%)</text>
<text transform="translate(22.9,832.3) rotate(-90)" font-size="28.6" fill="#000" text-anchor="middle"><tspan>Flexural stress (MPa)</tspan></text>
<text x="1.13" y="609" font-size="42.7" fill="#000" text-anchor="start" font-weight="bold" >c</text>
<rect x="877.9" y="599.8" width="575.6" height="466.8" fill="url(#bgD)" />
<g clip-path="url(#clipD)">
<path d="M920.6,1058.8 C915.78,1056.55 913.02,1050.13 912,1044 C910.98,1037.87 911.37,1032.4 914.5,1022 C917.63,1011.6 925.38,994.43 930.8,981.6 C936.22,968.77 941.92,956.85 947,945 C952.08,933.15 957.92,924.17 961.3,910.5 C964.68,896.83 965.45,877.67 967.3,863 C969.15,848.33 971.03,836 972.4,822.5 C973.77,809 974.32,795.53 975.5,782 C976.68,768.47 977.75,752.47 979.5,741.3 C981.25,730.13 981.92,722.88 986,715 C990.08,707.12 994.58,699.78 1004,694 C1013.42,688.22 1031.17,681.13 1042.5,680.3 C1053.83,679.47 1064.92,684.55 1072,689 C1079.08,693.45 1080.43,698.97 1085,707 C1089.57,715.03 1094.97,727.43 1099.4,737.2 C1103.83,746.97 1107.53,756.8 1111.6,765.6 C1115.67,774.4 1119.07,782.27 1123.8,790 C1128.53,797.73 1131.47,805 1140,812 C1148.53,819 1158.33,826 1175,832 C1191.67,838 1220.22,844.67 1240,848 C1259.78,851.33 1271.2,851.17 1293.7,852 C1316.2,852.83 1357.62,852 1375,853 C1392.38,854 1393.22,855.83 1398,858 C1402.78,860.17 1404.7,862.75 1403.7,866 C1402.7,869.25 1404,870.2 1392,877.5 C1380,884.8 1354.4,899.05 1331.7,909.8 C1309,920.55 1281.08,932.53 1255.8,942 C1230.52,951.47 1205.4,956.62 1180,966.6 C1154.6,976.58 1126.32,991.95 1103.4,1001.9 C1080.48,1011.85 1062.8,1018.85 1042.5,1026.3 C1022.2,1033.75 998.53,1041.4 981.6,1046.6 C964.67,1051.8 951.07,1055.47 940.9,1057.5 C930.73,1059.53 925.42,1061.05 920.6,1058.8Z" fill="#d5d5d3" stroke="none" stroke-width="1" />
<path d="M1024.2,1053.5 C1020.62,1052.67 1015.62,1050.92 1013.5,1042 C1011.38,1033.08 1011.58,1014.5 1011.5,1000 C1011.42,985.5 1011.92,970 1013,955 C1014.08,940 1015.5,923.83 1018,910 C1020.5,896.17 1023,882.83 1028,872 C1033,861.17 1038.5,852.67 1048,845 C1057.5,837.33 1069.67,831.33 1085,826 C1100.33,820.67 1120.83,816.33 1140,813 C1159.17,809.67 1180,807.42 1200,806 C1220,804.58 1242.5,804.33 1260,804.5 C1277.5,804.67 1294.92,804.92 1305,807 C1315.08,809.08 1318.67,813.17 1320.5,817 C1322.33,820.83 1321.08,826.17 1316,830 C1310.92,833.83 1302.67,837.67 1290,840 C1277.33,842.33 1258.33,842.5 1240,844 C1221.67,845.5 1200,847 1180,849 C1160,851 1136.67,853.17 1120,856 C1103.33,858.83 1090.67,861.17 1080,866 C1069.33,870.83 1061.67,876 1056,885 C1050.33,894 1048.5,905.83 1046,920 C1043.5,934.17 1042.17,953.33 1041,970 C1039.83,986.67 1040,1007.17 1039,1020 C1038,1032.83 1037.47,1041.42 1035,1047 C1032.53,1052.58 1027.78,1054.33 1024.2,1053.5Z" fill="#ffe45a" stroke="none" stroke-width="1" fill-opacity="0.28"/>
<path d="M1168.5,803.8 C1177.93,803.27 1189.02,812.1 1196.6,816.8 C1204.18,821.5 1210.38,827.13 1214,832 C1217.62,836.87 1218.97,841.83 1218.3,846 C1217.63,850.17 1215.55,851.67 1210,857 C1204.45,862.33 1195,870 1185,878 C1175,886 1161.17,895.5 1150,905 C1138.83,914.5 1126.67,925.83 1118,935 C1109.33,944.17 1103.67,954.5 1098,960 C1092.33,965.5 1087.5,968.83 1084,968 C1080.5,967.17 1077.33,961.67 1077,955 C1076.67,948.33 1077.95,938 1082,928 C1086.05,918 1094.83,907.67 1101.3,895 C1107.77,882.33 1114.35,864.5 1120.8,852 C1127.25,839.5 1132.05,828.03 1140,820 C1147.95,811.97 1159.07,804.33 1168.5,803.8Z" fill="#e8be3c" stroke="none" stroke-width="1" fill-opacity="0.45"/>
<ellipse cx="1087" cy="921" rx="101" ry="32" transform="rotate(-19 1087 921)" fill="#f5a06e" fill-opacity="0.42"/>
<ellipse cx="1130.5" cy="938.5" rx="53.5" ry="13.5" transform="rotate(-1 1130.5 938.5)" fill="#4f6b45" fill-opacity="0.45"/>
<circle cx="1139.2" cy="931.6" r="15.5" fill="#505050" stroke="none" stroke-width="1" fill-opacity="0.35"/>
<ellipse cx="1245" cy="867" rx="49" ry="17.5" transform="rotate(-6 1245 867)" fill="#4a5f98" fill-opacity="0.5"/>
<ellipse cx="1255" cy="902" rx="68" ry="16.5" transform="rotate(-18.4 1255 902)" fill="#b4c0ea" fill-opacity="0.5"/>
<circle cx="1210.5" cy="885.5" r="15.5" fill="#c07ad8" stroke="none" stroke-width="1" fill-opacity="0.5"/>
<circle cx="1019.3" cy="1002.4" r="15.5" fill="#8a5a48" stroke="none" stroke-width="1" fill-opacity="0.35"/>
</g>
<circle cx="926.3" cy="1040.5" r="6.6" fill="none" stroke="#6e6e6e" stroke-width="1.7" />
<circle cx="976.1" cy="898.4" r="6.6" fill="none" stroke="#6e6e6e" stroke-width="1.7" />
<circle cx="998.9" cy="715" r="6.6" fill="none" stroke="#6e6e6e" stroke-width="1.7" />
<circle cx="1014.6" cy="731.9" r="6.6" fill="none" stroke="#6e6e6e" stroke-width="1.7" />
<circle cx="1068.8" cy="698.2" r="6.6" fill="none" stroke="#6e6e6e" stroke-width="1.7" />
<circle cx="1021.3" cy="881.5" r="6.6" fill="none" stroke="#6e6e6e" stroke-width="1.7" />
<circle cx="1011.5" cy="904.3" r="6.6" fill="none" stroke="#6e6e6e" stroke-width="1.7" />
<circle cx="1018.1" cy="901.5" r="6.6" fill="none" stroke="#6e6e6e" stroke-width="1.7" />
<circle cx="1018.1" cy="950.6" r="6.6" fill="none" stroke="#6e6e6e" stroke-width="1.7" />
<circle cx="1048.8" cy="901.5" r="6.6" fill="none" stroke="#7a7458" stroke-width="1.7" />
<circle cx="1049.9" cy="997.7" r="6.6" fill="none" stroke="#6e6e6e" stroke-width="1.7" />
<circle cx="1063.3" cy="830.9" r="6.6" fill="none" stroke="#6e6e6e" stroke-width="1.7" />
<circle cx="1065.2" cy="840.7" r="6.6" fill="none" stroke="#6e6a55" stroke-width="1.7" />
<circle cx="1120.6" cy="848.1" r="6.6" fill="none" stroke="#6e6e6e" stroke-width="1.7" />
<circle cx="1177.5" cy="860.7" r="6.6" fill="none" stroke="#6e6e6e" stroke-width="1.7" />
<circle cx="1205.8" cy="854.4" r="6.6" fill="none" stroke="#6f6440" stroke-width="1.7" />
<circle cx="1211.7" cy="870.9" r="6.6" fill="none" stroke="#6a78a8" stroke-width="1.7" />
<circle cx="1278.4" cy="858" r="6.6" fill="none" stroke="#5a6ca8" stroke-width="1.7" />
<circle cx="1389.6" cy="865" r="6.6" fill="none" stroke="#6e6e6e" stroke-width="1.7" />
<circle cx="1140.2" cy="931" r="6.6" fill="none" stroke="#6a6a6a" stroke-width="1.7" />
<circle cx="1301.2" cy="884.6" r="6.6" fill="none" stroke="#7aa0d0" stroke-width="1.7" />
<circle cx="1274.5" cy="914.1" r="6.6" fill="none" stroke="#7aa0d0" stroke-width="1.7" />
<circle cx="1207.8" cy="921.2" r="6.6" fill="none" stroke="#7aa0d0" stroke-width="1.7" />
<circle cx="1170.5" cy="811.2" r="6.6" fill="none" stroke="#c8960a" stroke-width="1.7" />
<circle cx="1147.3" cy="844.6" r="6.6" fill="none" stroke="#e0aa10" stroke-width="1.7" />
<circle cx="1223.5" cy="844.6" r="6.6" fill="none" stroke="#eaaa00" stroke-width="1.7" />
<circle cx="1306.7" cy="827.7" r="6.6" fill="none" stroke="#eaaa00" stroke-width="1.7" />
<circle cx="1059" cy="865.4" r="6.6" fill="none" stroke="#e0aa10" stroke-width="1.7" />
<circle cx="1025.2" cy="1035" r="6.6" fill="none" stroke="#eaaa00" stroke-width="1.7" />
<circle cx="1133.2" cy="868.9" r="6.6" fill="none" stroke="#e8904a" stroke-width="1.7" />
<circle cx="1004.8" cy="947.9" r="6.6" fill="none" stroke="#e8904a" stroke-width="1.7" />
<circle cx="1094.3" cy="936.9" r="6.6" fill="none" stroke="#5a9a30" stroke-width="1.7" />
<circle cx="1091.5" cy="950.6" r="6.6" fill="none" stroke="#8a7a30" stroke-width="1.7" />
<circle cx="1167.7" cy="935.7" r="6.6" fill="none" stroke="#3a9a3a" stroke-width="1.7" />
<circle cx="1211.7" cy="885.8" r="6.6" fill="none" stroke="#7a2a9a" stroke-width="1.7" />
<circle cx="1019.3" cy="1002.4" r="6.6" fill="none" stroke="#a0502a" stroke-width="1.7" />
<circle cx="1269.4" cy="650.9" r="16" fill="#f8c6c6" stroke="none" stroke-width="1" />
<path d="M1269.4,639.2 L1272.1,646.48 L1279.86,646.8 L1273.77,651.62 L1275.87,659.1 L1269.4,654.8 L1262.93,659.1 L1265.03,651.62 L1258.94,646.8 L1266.7,646.48Z" fill="#fff" stroke="#ff0000" stroke-width="2" stroke-linejoin="miter"/>
<text x="1294.02" y="661" font-size="30" fill="#000" text-anchor="start" font-weight="normal"  textLength="129.53" lengthAdjust="spacingAndGlyphs">This work</text>
<text x="954.86" y="774.8" font-size="27.7" fill="#3a3a3a" text-anchor="start" font-weight="normal"  textLength="141.16" lengthAdjust="spacingAndGlyphs">Bioinspired</text>
<text x="968.19" y="807.3" font-size="27.7" fill="#3a3a3a" text-anchor="start" font-weight="normal"  textLength="113.88" lengthAdjust="spacingAndGlyphs">ceramics</text>
<text x="1125.82" y="760.5" font-size="27.7" fill="#7a5a00" text-anchor="start" font-weight="normal"  textLength="131.94" lengthAdjust="spacingAndGlyphs">SiC-based</text>
<text x="1134.9" y="794.5" font-size="27.7" fill="#7a5a00" text-anchor="start" font-weight="normal"  textLength="113.08" lengthAdjust="spacingAndGlyphs">ceramics</text>
<text x="1225.12" y="820.7" font-size="27.8" fill="#2f5597" text-anchor="start" font-weight="normal"  textLength="224.85" lengthAdjust="spacingAndGlyphs">SiCnw-toughened</text>
<text x="1281.2" y="853.8" font-size="27.7" fill="#2f5597" text-anchor="start" font-weight="normal"  textLength="113.08" lengthAdjust="spacingAndGlyphs">ceramics</text>
<text x="1078.57" y="910.5" font-size="27.7" fill="#1a1a1a" text-anchor="start" font-weight="normal"  textLength="112.41" lengthAdjust="spacingAndGlyphs">Carbides</text>
<text x="1003.6" y="935.9" font-size="27.2" fill="#d2601a" text-anchor="start" font-weight="normal"  textLength="73.31" lengthAdjust="spacingAndGlyphs">HECs</text>
<text x="1225.1" y="907.9" font-size="28" fill="#7b1f8f" text-anchor="start" font-weight="normal" >HEBCN<tspan font-weight="bold">s</tspan></text>
<text x="1097.08" y="977.5" font-size="27.2" fill="#3c6420" text-anchor="start" font-weight="normal"  textLength="72.21" lengthAdjust="spacingAndGlyphs">HEBs</text>
<text x="1223.18" y="952.4" font-size="28.3" fill="#1a9ad6" text-anchor="start" ><tspan>B</tspan><tspan font-size="19.24" dy="7.64">4</tspan><tspan dy="-7.64">C-toughened</tspan></text>
<text x="1272.98" y="983.7" font-size="27.5" fill="#1a9ad6" text-anchor="start" font-weight="normal"  textLength="92.77" lengthAdjust="spacingAndGlyphs">borides</text>
<text x="901.09" y="1009" font-size="27.3" fill="#8b0a0a" text-anchor="start" font-weight="normal"  textLength="95.63" lengthAdjust="spacingAndGlyphs">Borides</text>
<text x="1039.1" y="1047.6" font-size="27.8" fill="#c89b00" text-anchor="start" font-weight="normal"  textLength="384.9" lengthAdjust="spacingAndGlyphs">Graphene-toughened ceramics</text>
<line x1="877.9" y1="599.8" x2="1453.5" y2="599.8" stroke="#000" stroke-width="1.4" />
<line x1="877.9" y1="1066.6" x2="1453.5" y2="1066.6" stroke="#000" stroke-width="1.5" />
<line x1="877.9" y1="599.8" x2="877.9" y2="1066.6" stroke="#000" stroke-width="1.5" />
<line x1="1453.5" y1="599.8" x2="1453.5" y2="1066.6" stroke="#000" stroke-width="1.5" />
<line x1="868.9" y1="1066.6" x2="877.9" y2="1066.6" stroke="#000" stroke-width="1.4" />
<text x="862" y="1074.9" font-size="29.2" fill="#000" text-anchor="end" font-weight="normal" >0</text>
<line x1="873.4" y1="1033.26" x2="877.9" y2="1033.26" stroke="#000" stroke-width="1.4" />
<line x1="868.9" y1="999.91" x2="877.9" y2="999.91" stroke="#000" stroke-width="1.4" />
<text x="862" y="1008.21" font-size="29.2" fill="#000" text-anchor="end" font-weight="normal" >2</text>
<line x1="873.4" y1="966.57" x2="877.9" y2="966.57" stroke="#000" stroke-width="1.4" />
<line x1="868.9" y1="933.23" x2="877.9" y2="933.23" stroke="#000" stroke-width="1.4" />
<text x="862" y="941.53" font-size="29.2" fill="#000" text-anchor="end" font-weight="normal" >4</text>
<line x1="873.4" y1="899.89" x2="877.9" y2="899.89" stroke="#000" stroke-width="1.4" />
<line x1="868.9" y1="866.54" x2="877.9" y2="866.54" stroke="#000" stroke-width="1.4" />
<text x="862" y="874.84" font-size="29.2" fill="#000" text-anchor="end" font-weight="normal" >6</text>
<line x1="873.4" y1="833.2" x2="877.9" y2="833.2" stroke="#000" stroke-width="1.4" />
<line x1="868.9" y1="799.86" x2="877.9" y2="799.86" stroke="#000" stroke-width="1.4" />
<text x="862" y="808.16" font-size="29.2" fill="#000" text-anchor="end" font-weight="normal" >8</text>
<line x1="873.4" y1="766.51" x2="877.9" y2="766.51" stroke="#000" stroke-width="1.4" />
<line x1="868.9" y1="733.17" x2="877.9" y2="733.17" stroke="#000" stroke-width="1.4" />
<text x="862" y="741.47" font-size="29.2" fill="#000" text-anchor="end" font-weight="normal" >10</text>
<line x1="873.4" y1="699.83" x2="877.9" y2="699.83" stroke="#000" stroke-width="1.4" />
<line x1="868.9" y1="666.49" x2="877.9" y2="666.49" stroke="#000" stroke-width="1.4" />
<text x="862" y="674.79" font-size="29.2" fill="#000" text-anchor="end" font-weight="normal" >12</text>
<line x1="873.4" y1="633.14" x2="877.9" y2="633.14" stroke="#000" stroke-width="1.4" />
<line x1="868.9" y1="599.8" x2="877.9" y2="599.8" stroke="#000" stroke-width="1.4" />
<text x="862" y="608.1" font-size="29.2" fill="#000" text-anchor="end" font-weight="normal" >14</text>
<line x1="877.9" y1="1066.6" x2="877.9" y2="1075.4" stroke="#000" stroke-width="1.4" />
<text x="877.9" y="1104" font-size="29.5" fill="#000" text-anchor="middle" font-weight="normal" >0</text>
<line x1="925.87" y1="1066.6" x2="925.87" y2="1071.1" stroke="#000" stroke-width="1.4" />
<line x1="973.83" y1="1066.6" x2="973.83" y2="1075.4" stroke="#000" stroke-width="1.4" />
<text x="973.83" y="1104" font-size="29.5" fill="#000" text-anchor="middle" font-weight="normal" >150</text>
<line x1="1021.8" y1="1066.6" x2="1021.8" y2="1071.1" stroke="#000" stroke-width="1.4" />
<line x1="1069.77" y1="1066.6" x2="1069.77" y2="1075.4" stroke="#000" stroke-width="1.4" />
<text x="1069.77" y="1104" font-size="29.5" fill="#000" text-anchor="middle" font-weight="normal" >300</text>
<line x1="1117.73" y1="1066.6" x2="1117.73" y2="1071.1" stroke="#000" stroke-width="1.4" />
<line x1="1165.7" y1="1066.6" x2="1165.7" y2="1075.4" stroke="#000" stroke-width="1.4" />
<text x="1165.7" y="1104" font-size="29.5" fill="#000" text-anchor="middle" font-weight="normal" >450</text>
<line x1="1213.67" y1="1066.6" x2="1213.67" y2="1071.1" stroke="#000" stroke-width="1.4" />
<line x1="1261.63" y1="1066.6" x2="1261.63" y2="1075.4" stroke="#000" stroke-width="1.4" />
<text x="1261.63" y="1104" font-size="29.5" fill="#000" text-anchor="middle" font-weight="normal" >600</text>
<line x1="1309.6" y1="1066.6" x2="1309.6" y2="1071.1" stroke="#000" stroke-width="1.4" />
<line x1="1357.57" y1="1066.6" x2="1357.57" y2="1075.4" stroke="#000" stroke-width="1.4" />
<text x="1357.57" y="1104" font-size="29.5" fill="#000" text-anchor="middle" font-weight="normal" >750</text>
<line x1="1405.53" y1="1066.6" x2="1405.53" y2="1071.1" stroke="#000" stroke-width="1.4" />
<line x1="1453.5" y1="1066.6" x2="1453.5" y2="1075.4" stroke="#000" stroke-width="1.4" />
<text x="1453.5" y="1104" font-size="29.5" fill="#000" text-anchor="middle" font-weight="normal" >900</text>
<text x="1165.8" y="1137.5" font-size="28.6" fill="#000" text-anchor="middle" font-weight="normal" >Flexural strength (MPa)</text>
<text transform="translate(806.5,833) rotate(-90)" font-size="28.6" fill="#000" text-anchor="middle"><tspan font-style="italic" dy="-0">K</tspan><tspan font-size="19.45" dy="7.72">IC</tspan><tspan dy="-7.72"> (MPa·m</tspan><tspan font-size="19.45" dy="-10.3">1/2</tspan><tspan dy="10.3">)</tspan></text>
<text x="785.75" y="609.6" font-size="42.7" fill="#000" text-anchor="start" font-weight="bold" >d</text>
<g clip-path="url(#ce1)">
<rect x="105.6" y="1165" width="634.4" height="253" fill="#828282" />
<path d="M100,1160 C103.67,1143.67 118.67,1153.33 122,1160 C125.33,1166.67 119.33,1187.5 120,1200 C120.67,1212.5 123.5,1225.33 126,1235 C128.5,1244.67 139.33,1254.17 135,1258 C130.67,1261.83 105.83,1274.33 100,1258 C94.17,1241.67 96.33,1176.33 100,1160Z" fill="#6c6c6c" filter="url(#b4)" />
<path d="M100,1265 C106.67,1250 128.33,1268.17 140,1270 C151.67,1271.83 162.5,1273 170,1276 C177.5,1279 185.83,1284.67 185,1288 C184.17,1291.33 172.5,1292.33 165,1296 C157.5,1299.67 147.5,1304 140,1310 C132.5,1316 125.67,1324.33 120,1332 C114.33,1339.67 109.33,1351.33 106,1356 C102.67,1360.67 101,1375.17 100,1360 C99,1344.83 93.33,1280 100,1265Z" fill="#545454" filter="url(#b3)" />
<path d="M296,1190 C297,1184.17 298.83,1184.17 300,1190 C301.17,1195.83 301,1212.5 303,1225 C305,1237.5 310.5,1255.17 312,1265 C313.5,1274.83 315.67,1280.17 312,1284 C308.33,1287.83 296.67,1288 290,1288 C283.33,1288 272.83,1288.33 272,1284 C271.17,1279.67 281.33,1271.83 285,1262 C288.67,1252.17 292.17,1237 294,1225 C295.83,1213 295,1195.83 296,1190Z" fill="#5c5c5c" filter="url(#b2)" />
<path d="M402,1160 C406.67,1154.17 429.67,1154.17 434,1160 C438.33,1165.83 430,1183.33 428,1195 C426,1206.67 422,1218.83 422,1230 C422,1241.17 425.33,1252 428,1262 C430.67,1272 439.33,1283.67 438,1290 C436.67,1296.33 426.67,1298.67 420,1300 C413.33,1301.33 400.33,1304.33 398,1298 C395.67,1291.67 403.83,1273.33 406,1262 C408.17,1250.67 411,1241.17 411,1230 C411,1218.83 407.5,1206.67 406,1195 C404.5,1183.33 397.33,1165.83 402,1160Z" fill="#606060" filter="url(#b2)" />
<path d="M550,1165 C551.17,1157.5 556.33,1156.67 558,1165 C559.67,1173.33 558.33,1200.83 560,1215 C561.67,1229.17 560.5,1238.17 568,1250 C575.5,1261.83 603.83,1279.33 605,1286 C606.17,1292.67 583.67,1289.33 575,1290 C566.33,1290.67 557.17,1296.67 553,1290 C548.83,1283.33 550.33,1263.33 550,1250 C549.67,1236.67 551,1224.17 551,1210 C551,1195.83 548.83,1172.5 550,1165Z" fill="#5e5e5e" filter="url(#b2)" />
<path d="M500,1300 C507.5,1296.17 526.67,1292.67 540,1292 C553.33,1291.33 566.67,1293.83 580,1296 C593.33,1298.17 610.67,1302.33 620,1305 C629.33,1307.67 634.33,1307 636,1312 C637.67,1317 637.67,1331.67 630,1335 C622.33,1338.33 603.33,1333.5 590,1332 C576.67,1330.5 563.33,1327 550,1326 C536.67,1325 519.17,1327.83 510,1326 C500.83,1324.17 496.67,1319.33 495,1315 C493.33,1310.67 492.5,1303.83 500,1300Z" fill="#666666" filter="url(#b3)" />
<path d="M372,1312 C373.67,1309.33 389.33,1319.33 400,1320 C410.67,1320.67 428.67,1314.33 436,1316 C443.33,1317.67 446.67,1326.33 444,1330 C441.33,1333.67 429,1337 420,1338 C411,1339 398,1340.33 390,1336 C382,1331.67 370.33,1314.67 372,1312Z" fill="#6e6e6e" filter="url(#b3)" />
<path d="M405,1320 C405.33,1313.33 409.83,1313.33 412,1320 C414.17,1326.67 415.67,1348 418,1360 C420.33,1372 427.67,1386.67 426,1392 C424.33,1397.33 410.67,1397.33 408,1392 C405.33,1386.67 410.5,1372 410,1360 C409.5,1348 404.67,1326.67 405,1320Z" fill="#646464" filter="url(#b1_5)" />
<path d="M480,1330 C482.67,1324.33 491.17,1323 492,1328 C492.83,1333 487.33,1348.33 485,1360 C482.67,1371.67 481.5,1391.67 478,1398 C474.5,1404.33 464.33,1404 464,1398 C463.67,1392 473.33,1373.33 476,1362 C478.67,1350.67 477.33,1335.67 480,1330Z" fill="#646464" filter="url(#b1_5)" />
<path d="M700,1292 C705.83,1285.5 737.5,1257.17 745,1276 C752.5,1294.83 747.83,1387.67 745,1405 C742.17,1422.33 731.83,1390.83 728,1380 C724.17,1369.17 725,1350.83 722,1340 C719,1329.17 713.67,1323 710,1315 C706.33,1307 694.17,1298.5 700,1292Z" fill="#5c5c5c" filter="url(#b2)" />
<path d="M632,1312 C633.33,1304.33 645.33,1308.5 650,1314 C654.67,1319.5 657.33,1332.33 660,1345 C662.67,1357.67 667.33,1381.67 666,1390 C664.67,1398.33 656,1400 652,1395 C648,1390 645.33,1373.83 642,1360 C638.67,1346.17 630.67,1319.67 632,1312Z" fill="#606060" filter="url(#b2)" />
<path d="M409,1376 C410.5,1373.33 426.33,1373.33 428,1376 C429.67,1378.67 422.17,1392 419,1392 C415.83,1392 407.5,1378.67 409,1376Z" fill="#585858" filter="url(#b1)" />
<path d="M463,1384 C464.33,1381 480.17,1379.33 482,1382 C483.83,1384.67 477.17,1399.67 474,1400 C470.83,1400.33 461.67,1387 463,1384Z" fill="#585858" filter="url(#b1)" />
<path d="M248,1290 C250.33,1286.67 273.67,1286.67 276,1290 C278.33,1293.33 266.67,1310 262,1310 C257.33,1310 245.67,1293.33 248,1290Z" fill="#606060" filter="url(#b2)" />
<ellipse cx="655" cy="1218" rx="82" ry="58" fill="#8a8a8a" filter="url(#b6)" />
<ellipse cx="205" cy="1205" rx="85" ry="45" fill="#888888" filter="url(#b6)" />
<ellipse cx="360" cy="1260" rx="45" ry="35" fill="#888888" filter="url(#b6)" />
<ellipse cx="200" cy="1380" rx="100" ry="50" fill="#858585" filter="url(#b8)" />
<ellipse cx="673" cy="1336" rx="40" ry="43" fill="#8a8a8a" filter="url(#b1_5)" />
<circle cx="704" cy="1318" r="4" fill="#505050" stroke="none" stroke-width="1" filter="url(#b1)"/>
<path d="M104,1259 L120,1261 L138.9,1264.4 L141.6,1267.8 L156.5,1266.4 L170,1269.8 L189,1281.3 L193,1278.6 L224.2,1276.6 L264.8,1285.4 L271.6,1290.8 L287.8,1286.7 L305,1286 L316.6,1286.7 L338.3,1296.5" transform="translate(0,-5)" fill="none" stroke="#e8e8e8" stroke-width="8" stroke-linejoin="round" filter="url(#b3)" opacity="0.9"/>
<path d="M104,1259 L120,1261 L138.9,1264.4 L141.6,1267.8 L156.5,1266.4 L170,1269.8 L189,1281.3 L193,1278.6 L224.2,1276.6 L264.8,1285.4 L271.6,1290.8 L287.8,1286.7 L305,1286 L316.6,1286.7 L338.3,1296.5" transform="translate(0,4)" fill="none" stroke="#404040" stroke-width="5" stroke-linejoin="round" filter="url(#b3)" opacity="0.5"/>
<path d="M104,1259 L120,1261 L138.9,1264.4 L141.6,1267.8 L156.5,1266.4 L170,1269.8 L189,1281.3 L193,1278.6 L224.2,1276.6 L264.8,1285.4 L271.6,1290.8 L287.8,1286.7 L305,1286 L316.6,1286.7 L338.3,1296.5" fill="none" stroke="#111" stroke-width="2.2" stroke-linejoin="round" stroke-linecap="round"/>
<path d="M338.3,1296.5 L364.3,1295.4 L385,1300 L405.7,1302 L436.4,1299.8 L455,1294 L473.7,1290 L492.1,1298.1 L503.6,1292.4 L525,1287 L554.2,1284.5 L565.7,1286.2 L584.2,1294.7 L610,1297.5 L632.8,1299.8 L639.4,1293.5 L660,1291 L676.2,1287.8 L720,1280 L742,1277" transform="translate(0,-3)" fill="none" stroke="#e8e8e8" stroke-width="4" stroke-linejoin="round" filter="url(#b3)" opacity="0.9"/>
<path d="M338.3,1296.5 L364.3,1295.4 L385,1300 L405.7,1302 L436.4,1299.8 L455,1294 L473.7,1290 L492.1,1298.1 L503.6,1292.4 L525,1287 L554.2,1284.5 L565.7,1286.2 L584.2,1294.7 L610,1297.5 L632.8,1299.8 L639.4,1293.5 L660,1291 L676.2,1287.8 L720,1280 L742,1277" transform="translate(0,4)" fill="none" stroke="#404040" stroke-width="5" stroke-linejoin="round" filter="url(#b3)" opacity="0.5"/>
<path d="M338.3,1296.5 L364.3,1295.4 L385,1300 L405.7,1302 L436.4,1299.8 L455,1294 L473.7,1290 L492.1,1298.1 L503.6,1292.4 L525,1287 L554.2,1284.5 L565.7,1286.2 L584.2,1294.7 L610,1297.5 L632.8,1299.8 L639.4,1293.5 L660,1291 L676.2,1287.8 L720,1280 L742,1277" fill="none" stroke="#111" stroke-width="1.6" stroke-linejoin="round" stroke-linecap="round"/>
<path d="M104,1257 L138,1262 L140,1267 L106,1263Z" fill="#111"/>
<path d="M390,1313 L400,1316.5 L413.8,1317.7 L432.2,1309.6 L436.8,1300" transform="translate(0,-3)" fill="none" stroke="#e8e8e8" stroke-width="4" stroke-linejoin="round" filter="url(#b3)" opacity="0.9"/>
<path d="M390,1313 L400,1316.5 L413.8,1317.7 L432.2,1309.6 L436.8,1300" fill="none" stroke="#111" stroke-width="2.2" stroke-linejoin="round" stroke-linecap="round"/>
<rect x="311.2" y="1220.5" width="192.4" height="157.7" fill="none" stroke="#fff" stroke-width="2.4" stroke-dasharray="8 5.5"/>
<line x1="503.6" y1="1220.5" x2="742" y2="1166.5" stroke="#fff" stroke-width="2.6" stroke-dasharray="8 5.5"/>
<line x1="503.6" y1="1378.2" x2="742" y2="1411" stroke="#fff" stroke-width="2.6" stroke-dasharray="8 5.5"/>
<line x1="274" y1="1251" x2="290.34" y2="1255.4" stroke="#fff" stroke-width="1.8" />
<path d="M300,1258 L288.08,1259.97 L290.68,1250.31Z" fill="#fff" stroke="none" stroke-width="1" />
<line x1="302" y1="1276" x2="322.34" y2="1281.42" stroke="#fff" stroke-width="1.8" />
<path d="M332,1284 L320.08,1286 L322.66,1276.33Z" fill="#fff" stroke="none" stroke-width="1" />
<line x1="450" y1="1278" x2="474.21" y2="1273.02" stroke="#fff" stroke-width="1.8" />
<path d="M484,1271 L474.23,1278.12 L472.22,1268.32Z" fill="#fff" stroke="none" stroke-width="1" />
<line x1="398" y1="1334" x2="424" y2="1334" stroke="#fff" stroke-width="1.8" />
<path d="M434,1334 L423,1339 L423,1329Z" fill="#fff" stroke="none" stroke-width="1" />
<line x1="372" y1="1307" x2="379.6" y2="1325.67" stroke="#fff" stroke-width="1.6" stroke-dasharray="4 3"/>
<path d="M383,1334 L375.44,1327.36 L383.77,1323.97Z" fill="#fff" stroke="none" stroke-width="1" />
<line x1="444" y1="1327" x2="449.53" y2="1307.65" stroke="#fff" stroke-width="1.6" stroke-dasharray="4 3"/>
<path d="M452,1299 L453.85,1308.89 L445.2,1306.42Z" fill="#fff" stroke="none" stroke-width="1" />
<text x="189.48" y="1248.8" font-size="30" fill="#fff" text-anchor="start" ><tspan>Cr</tspan><tspan font-size="20.4" dy="8.1">7</tspan><tspan dy="-8.1">C</tspan><tspan font-size="20.4" dy="8.1">3</tspan></text>
<text x="192.58" y="1382.7" font-size="32.5" fill="#fff" text-anchor="start" font-weight="normal"  textLength="70" lengthAdjust="spacingAndGlyphs">HEC</text>
<text x="650.42" y="1395.9" font-size="33" fill="#fff" text-anchor="start" font-weight="normal"  textLength="72.99" lengthAdjust="spacingAndGlyphs">1 µm</text>
<rect x="670.5" y="1405" width="42.6" height="5.4" fill="#fff" />
</g>
<text x="123.4" y="1212.4" font-size="43" font-weight="bold" fill="#000">e<tspan font-size="29.5" dy="10.5">1</tspan></text>
<g clip-path="url(#ce2)">
<rect x="105.6" y="1438" width="634.4" height="251.6" fill="#8c8c8c" />
<path d="M360,1432 C386.33,1420.67 492.5,1425.67 520,1432 C547.5,1438.33 525,1457 525,1470 C525,1483 524.17,1497.5 520,1510 C515.83,1522.5 504.67,1533.33 500,1545 C495.33,1556.67 492,1570 492,1580 C492,1590 495.33,1597.5 500,1605 C504.67,1612.5 525,1621.67 520,1625 C515,1628.33 486.67,1624.17 470,1625 C453.33,1625.83 430.67,1624.17 420,1630 C409.33,1635.83 409.33,1649.17 406,1660 C402.67,1670.83 435.17,1689.17 400,1695 C364.83,1700.83 228.67,1704.17 195,1695 C161.33,1685.83 194.67,1654.17 198,1640 C201.33,1625.83 208,1617 215,1610 C222,1603 225.83,1601.33 240,1598 C254.17,1594.67 281.67,1592.17 300,1590 C318.33,1587.83 338,1590 350,1585 C362,1580 370,1574.17 372,1560 C374,1545.83 364,1521.33 362,1500 C360,1478.67 333.67,1443.33 360,1432Z" fill="#646464" filter="url(#b2)" />
<path d="M100,1432 C143.67,1410.33 322,1425.67 362,1432 C402,1438.33 350.33,1455.33 340,1470 C329.67,1484.67 313,1504.17 300,1520 C287,1535.83 273.5,1552.67 262,1565 C250.5,1577.33 244.67,1591.5 231,1594 C217.33,1596.5 196.83,1584.33 180,1580 C163.17,1575.67 143.33,1571 130,1568 C116.67,1565 105,1584.67 100,1562 C95,1539.33 56.33,1453.67 100,1432Z" fill="#969696" filter="url(#b2)" />
<path d="M366,1436 C371.17,1440.67 375,1479.33 376,1500 C377,1520.67 376.33,1546.33 372,1560 C367.67,1573.67 362,1577.67 350,1582 C338,1586.33 313.67,1585.33 300,1586 C286.33,1586.67 268,1594.5 268,1586 C268,1577.5 287.17,1554 300,1535 C312.83,1516 334,1488.5 345,1472 C356,1455.5 360.83,1431.33 366,1436Z" fill="#808080" filter="url(#b2)" />
<path d="M100,1568 C110,1555.17 138.17,1573 160,1578 C181.83,1583 219.67,1591.83 231,1598 C242.33,1604.17 233.17,1608.83 228,1615 C222.83,1621.17 213,1629.17 200,1635 C187,1640.83 166.67,1646.67 150,1650 C133.33,1653.33 108.33,1668.67 100,1655 C91.67,1641.33 90,1580.83 100,1568Z" fill="#929292" filter="url(#b2)" />
<path d="M100,1655 C110,1647.5 143.33,1652.5 160,1650 C176.67,1647.5 193.67,1632.5 200,1640 C206.33,1647.5 214.67,1685.83 198,1695 C181.33,1704.17 116.33,1701.67 100,1695 C83.67,1688.33 90,1662.5 100,1655Z" fill="#767676" filter="url(#b3)" />
<ellipse cx="150" cy="1700" rx="55" ry="22" fill="#848484" filter="url(#b2)" />
<ellipse cx="340.5" cy="1655.3" rx="38" ry="36" fill="#8e8e8e" filter="url(#b1_5)" />
<ellipse cx="442" cy="1498" rx="55" ry="57" fill="#909090" filter="url(#b1_2)" />
<path d="M525,1432 C560.83,1419 708.33,1413.17 745,1432 C781.67,1450.83 748.33,1528.67 745,1545 C741.67,1561.33 735.83,1536.67 725,1530 C714.17,1523.33 697.5,1511.33 680,1505 C662.5,1498.67 640,1493.33 620,1492 C600,1490.67 575,1494 560,1497 C545,1500 535.83,1520.83 530,1510 C524.17,1499.17 489.17,1445 525,1432Z" fill="#8a8a8a" filter="url(#b2)" />
<path d="M498,1592 C488.83,1587.67 501.33,1570.33 505,1560 C508.67,1549.67 513.33,1538.67 520,1530 C526.67,1521.33 535,1513.5 545,1508 C555,1502.5 567.5,1499.5 580,1497 C592.5,1494.5 606.67,1492.17 620,1493 C633.33,1493.83 646.67,1497.17 660,1502 C673.33,1506.83 690.67,1514.83 700,1522 C709.33,1529.17 713,1537.67 716,1545 C719,1552.33 720.67,1562.17 718,1566 C715.33,1569.83 716.33,1566.33 700,1568 C683.67,1569.67 643.33,1573 620,1576 C596.67,1579 580.33,1583.33 560,1586 C539.67,1588.67 507.17,1596.33 498,1592Z" fill="#969696" filter="url(#b1_5)" />
<path d="M520,1600 C525,1594.5 540,1595.33 560,1592 C580,1588.67 616.67,1583.33 640,1580 C663.33,1576.67 682.5,1572.83 700,1572 C717.5,1571.17 737.5,1554.5 745,1575 C752.5,1595.5 762.5,1675 745,1695 C727.5,1715 670.83,1700.83 640,1695 C609.17,1689.17 578.33,1671.67 560,1660 C541.67,1648.33 536.67,1635 530,1625 C523.33,1615 515,1605.5 520,1600Z" fill="#8f8f8f" filter="url(#b2)" />
<ellipse cx="525" cy="1700" rx="122" ry="78" fill="#929292" filter="url(#b1_5)" />
<path d="M710,1532 L735,1528 L721,1562Z" fill="#4e4e4e" filter="url(#b1)" />
<path d="M626,1672 L652,1666 L645,1690Z" fill="#464646" filter="url(#b1)" />
<path d="M100,1562 L140,1570 L180,1580 L217,1590.3 L231,1596.5 L245,1596 L260,1595 L280,1592 L320,1590 L360,1588 L395,1588" transform="translate(0,-3)" fill="none" stroke="#e8e8e8" stroke-width="4" stroke-linejoin="round" filter="url(#b3)" opacity="0.9"/>
<path d="M100,1562 L140,1570 L180,1580 L217,1590.3 L231,1596.5 L245,1596 L260,1595 L280,1592 L320,1590 L360,1588 L395,1588" transform="translate(0,4)" fill="none" stroke="#404040" stroke-width="5" stroke-linejoin="round" filter="url(#b3)" opacity="0.5"/>
<path d="M100,1562 L140,1570 L180,1580 L217,1590.3 L231,1596.5 L245,1596 L260,1595 L280,1592 L320,1590 L360,1588 L395,1588" fill="none" stroke="#111" stroke-width="2.2" stroke-linejoin="round" stroke-linecap="round"/>
<path d="M390,1586 L416,1586 L416,1592 L390,1592Z" fill="#111"/>
<path d="M480,1582 L492,1590 L503.6,1592.3 L560,1584 L620,1575 L671.6,1565.8 L700,1569 L745,1574" transform="translate(0,-3)" fill="none" stroke="#e8e8e8" stroke-width="4" stroke-linejoin="round" filter="url(#b3)" opacity="0.9"/>
<path d="M480,1582 L492,1590 L503.6,1592.3 L560,1584 L620,1575 L671.6,1565.8 L700,1569 L745,1574" transform="translate(0,4)" fill="none" stroke="#404040" stroke-width="5" stroke-linejoin="round" filter="url(#b3)" opacity="0.5"/>
<path d="M480,1582 L492,1590 L503.6,1592.3 L560,1584 L620,1575 L671.6,1565.8 L700,1569 L745,1574" fill="none" stroke="#111" stroke-width="2.2" stroke-linejoin="round" stroke-linecap="round"/>
<path d="M420,1557 Q445,1562 470,1557" stroke="#555" stroke-width="2.5" fill="none" filter="url(#b1)"/>
<rect x="350.2" y="1461.8" width="193.7" height="158.1" fill="none" stroke="#fff" stroke-width="2.4" stroke-dasharray="8 5.5"/>
<line x1="543.9" y1="1461.8" x2="742" y2="1439" stroke="#fff" stroke-width="2.6" stroke-dasharray="8 5.5"/>
<line x1="543.9" y1="1619.9" x2="742" y2="1680.5" stroke="#fff" stroke-width="2.6" stroke-dasharray="8 5.5"/>
<line x1="361" y1="1593" x2="398.04" y2="1596.15" stroke="#fff" stroke-width="1.8" />
<path d="M408,1597 L396.62,1601.05 L397.46,1591.09Z" fill="#fff" stroke="none" stroke-width="1" />
<line x1="429" y1="1540" x2="462" y2="1540" stroke="#fff" stroke-width="1.8" />
<path d="M472,1540 L461,1545 L461,1535Z" fill="#fff" stroke="none" stroke-width="1" />
<line x1="499" y1="1598" x2="525" y2="1598" stroke="#fff" stroke-width="1.8" />
<path d="M535,1598 L524,1603 L524,1593Z" fill="#fff" stroke="none" stroke-width="1" />
<line x1="409" y1="1576" x2="417.23" y2="1550.56" stroke="#fff" stroke-width="1.6" stroke-dasharray="4 3"/>
<path d="M420,1542 L421.51,1551.95 L412.95,1549.18Z" fill="#fff" stroke="none" stroke-width="1" />
<line x1="481" y1="1545" x2="489.92" y2="1569.54" stroke="#fff" stroke-width="1.6" stroke-dasharray="4 3"/>
<path d="M493,1578 L485.7,1571.08 L494.15,1568Z" fill="#fff" stroke="none" stroke-width="1" />
<text x="648.44" y="1668.3" font-size="33" fill="#fff" text-anchor="start" font-weight="normal"  textLength="72.59" lengthAdjust="spacingAndGlyphs">1 µm</text>
<rect x="660.1" y="1676.8" width="57.1" height="4.8" fill="#fff" />
</g>
<text x="126.5" y="1482.6" font-size="43" font-weight="bold" fill="#000">e<tspan font-size="29.5" dy="10.5">2</tspan></text>
<g clip-path="url(#ce3)">
<rect x="761" y="1166" width="345" height="251" fill="#767676" />
<path d="M755,1160 C786.67,1145.83 918.33,1151.67 950,1160 C981.67,1168.33 949.17,1195.83 945,1210 C940.83,1224.17 955.83,1239.17 925,1245 C894.17,1250.83 788.33,1259.17 760,1245 C731.67,1230.83 723.33,1174.17 755,1160Z" fill="#7e7e7e" filter="url(#b10)" />
<path d="M975,1160 C995,1150.83 1087.5,1147.5 1110,1160 C1132.5,1172.5 1126.67,1219.17 1110,1235 C1093.33,1250.83 1030,1258.33 1010,1255 C990,1251.67 995.83,1230.83 990,1215 C984.17,1199.17 955,1169.17 975,1160Z" fill="#747474" filter="url(#b10)" />
<path d="M761,1238 C772.5,1236.33 806.83,1238 830,1240 C853.17,1242 882.5,1246.33 900,1250 C917.5,1253.67 930.83,1258.67 935,1262 C939.17,1265.33 937.5,1270 925,1270 C912.5,1270 880.83,1265 860,1262 C839.17,1259 816.5,1254 800,1252 C783.5,1250 767.5,1252.33 761,1250 C754.5,1247.67 749.5,1239.67 761,1238Z" fill="#aaaaaa" filter="url(#b5)" />
<path d="M780,1262 C788.33,1259.33 825.83,1261.83 850,1264 C874.17,1266.17 914.17,1270.67 925,1275 C935.83,1279.33 925.83,1288.33 915,1290 C904.17,1291.67 879.17,1286.67 860,1285 C840.83,1283.33 813.33,1283.83 800,1280 C786.67,1276.17 771.67,1264.67 780,1262Z" fill="#8c8c8c" filter="url(#b6)" />
<path d="M950,1160 C953.33,1153.33 964.33,1152.5 968,1160 C971.67,1167.5 968.33,1192.5 972,1205 C975.67,1217.5 984.83,1225.5 990,1235 C995.17,1244.5 1002.17,1252.83 1003,1262 C1003.83,1271.17 1002.17,1283.67 995,1290 C987.83,1296.33 970.83,1299.67 960,1300 C949.17,1300.33 935.67,1298.33 930,1292 C924.33,1285.67 924.33,1272.33 926,1262 C927.67,1251.67 936.33,1240.33 940,1230 C943.67,1219.67 946.33,1211.67 948,1200 C949.67,1188.33 946.67,1166.67 950,1160Z" fill="#5c5c5c" filter="url(#b6)" />
<path d="M780,1272 C785.83,1271 805,1276.5 820,1282 C835,1287.5 855.83,1297 870,1305 C884.17,1313 895.83,1321.67 905,1330 C914.17,1338.33 919.5,1345 925,1355 C930.5,1365 934.67,1379.17 938,1390 C941.33,1400.83 947.17,1415 945,1420 C942.83,1425 930,1425.83 925,1420 C920,1414.17 920,1396.67 915,1385 C910,1373.33 904.17,1360.5 895,1350 C885.83,1339.5 872.5,1330.33 860,1322 C847.5,1313.67 832.5,1305.67 820,1300 C807.5,1294.33 791.67,1292.67 785,1288 C778.33,1283.33 774.17,1273 780,1272Z" fill="#626262" filter="url(#b8)" />
<path d="M1005,1292 C1002.83,1296.5 992.17,1307.83 985,1315 C977.83,1322.17 967.83,1325.83 962,1335 C956.17,1344.17 952.33,1355.83 950,1370 C947.67,1384.17 949.67,1411.67 948,1420 C946.33,1428.33 941.33,1430 940,1420 C938.67,1410 938,1375.83 940,1360 C942,1344.17 946.17,1334.17 952,1325 C957.83,1315.83 967.33,1311.17 975,1305 C982.67,1298.83 993,1290.17 998,1288 C1003,1285.83 1007.17,1287.5 1005,1292Z" fill="#686868" filter="url(#b4)" />
<path d="M895,1296 C900,1294 917.5,1292.17 930,1292 C942.5,1291.83 958.33,1295.83 970,1295 C981.67,1294.17 994.17,1286.67 1000,1287 C1005.83,1287.33 1009.17,1294 1005,1297 C1000.83,1300 987.5,1304.17 975,1305 C962.5,1305.83 942.5,1302.17 930,1302 C917.5,1301.83 905.83,1305 900,1304 C894.17,1303 890,1298 895,1296Z" fill="#a0a0a0" filter="url(#b4)" />
<path d="M960,1310 C963.83,1307.17 978.33,1306.67 985,1305 C991.67,1303.33 997.5,1296.67 1000,1300 C1002.5,1303.33 1004.17,1320 1000,1325 C995.83,1330 981.33,1330.5 975,1330 C968.67,1329.5 964.5,1325.33 962,1322 C959.5,1318.67 956.17,1312.83 960,1310Z" fill="#8c8c8c" filter="url(#b6)" />
<path d="M1000,1262 C1006.67,1256.17 1032.33,1250 1050,1245 C1067.67,1240 1096.67,1229.17 1106,1232 C1115.33,1234.83 1115.33,1254.83 1106,1262 C1096.67,1269.17 1066,1272 1050,1275 C1034,1278 1018.33,1282.17 1010,1280 C1001.67,1277.83 993.33,1267.83 1000,1262Z" fill="#8a8a8a" filter="url(#b6)" />
<line x1="935" y1="1390" x2="938" y2="1405" stroke="#aaaaaa" stroke-width="2" />
<path d="M761,1247 L775,1250 L790,1248 L830,1249 L835,1254 L790,1256 L772,1262 L761,1257Z" fill="#202020" filter="url(#b0_8)" />
<path d="M836,1257 L860,1258 L862,1264 L840,1263Z" fill="#585858" filter="url(#b1)" />
<path d="M864,1266 L878,1267 L877,1274 L866,1272Z" fill="#464646" filter="url(#b1)" />
<path d="M880,1268 Q905,1262 928,1270 L934,1274" fill="none" stroke="#606060" stroke-width="2.5" filter="url(#b1)"/>
<path d="M997,1268 Q1050,1250 1106,1238 L1106,1243 Q1060,1258 1003,1270Z" fill="#0f0f0f"/>
<path d="M882,1309 Q895,1304 905,1304 L925,1303.5 L945,1306 L962,1305 L958,1311 L945,1313 L925,1309 L905,1309Z" fill="#1a1a1a"/>
<path d="M962,1305 Q985,1296 1001,1291" fill="none" stroke="#5a5a5a" stroke-width="2.5" filter="url(#b1)"/>
<line x1="949.7" y1="1420" x2="930.3" y2="1303.61" stroke="#fff" stroke-width="2.6" stroke-dasharray="7 4"/>
<path d="M928,1289.8 L937.21,1302.46 L923.4,1304.76Z" fill="#fff" stroke="none" stroke-width="1" />
<line x1="1026.6" y1="1418" x2="1108" y2="1362" stroke="#fff" stroke-width="2.4" stroke-dasharray="7 4.5"/>
<text x="990.39" y="1398.3" font-size="33" fill="#fff" text-anchor="start" font-weight="normal"  textLength="109.3" lengthAdjust="spacingAndGlyphs">500 nm</text>
<rect x="1012.1" y="1405.1" width="56.5" height="5.4" fill="#fff" />
</g>
<text x="773.7" y="1207.2" font-size="43" font-weight="bold" fill="#000">e<tspan font-size="29.5" dy="10.5">3</tspan></text>
<g clip-path="url(#ce4)">
<rect x="761" y="1438.4" width="345" height="251.2" fill="#626262" />
<path d="M755,1432 C770.83,1415.67 835,1424 850,1432 C865,1440 848.33,1466.17 845,1480 C841.67,1493.83 837.5,1506.67 830,1515 C822.5,1523.33 812.5,1527.5 800,1530 C787.5,1532.5 762.5,1546.33 755,1530 C747.5,1513.67 739.17,1448.33 755,1432Z" fill="#7a7a7a" filter="url(#b10)" />
<path d="M755,1620 C762.5,1608.33 784.17,1623.33 800,1625 C815.83,1626.67 833.33,1625.83 850,1630 C866.67,1634.17 888.33,1639.17 900,1650 C911.67,1660.83 944.17,1687.5 920,1695 C895.83,1702.5 782.5,1707.5 755,1695 C727.5,1682.5 747.5,1631.67 755,1620Z" fill="#6c6c6c" filter="url(#b8)" />
<ellipse cx="932.3" cy="1477.4" rx="92" ry="92" fill="#9e9e9e" filter="url(#b2)" />
<ellipse cx="905" cy="1500" rx="55" ry="50" fill="#a5a5a5" filter="url(#b12)" />
<ellipse cx="1131" cy="1592" rx="95" ry="127" fill="#9e9e9e" filter="url(#b2_5)" />
<ellipse cx="1000" cy="1700" rx="70" ry="35" fill="#707070" filter="url(#b4)" />
<path d="M900,1580 C918.33,1570 967.5,1573.33 990,1580 C1012.5,1586.67 1026.67,1600.83 1035,1620 C1043.33,1639.17 1062.5,1682.5 1040,1695 C1017.5,1707.5 926.67,1704.17 900,1695 C873.33,1685.83 880,1659.17 880,1640 C880,1620.83 881.67,1590 900,1580Z" fill="#606060" filter="url(#b8)" />
<path d="M761,1603 L800,1604 L830,1607 L851.1,1612.6" transform="translate(0,-3)" fill="none" stroke="#e8e8e8" stroke-width="3" stroke-linejoin="round" filter="url(#b3)" opacity="0.9"/>
<path d="M761,1603 L800,1604 L830,1607 L851.1,1612.6" fill="none" stroke="#111" stroke-width="2.4" stroke-linejoin="round" stroke-linecap="round"/>
<ellipse cx="872" cy="1617.5" rx="20" ry="5" fill="#0f0f0f" filter="url(#b0_8)" />
<path d="M908.8,1564.6 L925,1568 L947.3,1569.4 L965,1568 L983.3,1564.6" transform="translate(0,-3)" fill="none" stroke="#e8e8e8" stroke-width="3" stroke-linejoin="round" filter="url(#b3)" opacity="0.9"/>
<path d="M908.8,1564.6 L925,1568 L947.3,1569.4 L965,1568 L983.3,1564.6" fill="none" stroke="#111" stroke-width="2.4" stroke-linejoin="round" stroke-linecap="round"/>
<path d="M995.3,1609 L1020,1618 L1043.4,1623.5 L1070,1620 L1105.9,1615" transform="translate(0,-3)" fill="none" stroke="#e8e8e8" stroke-width="3" stroke-linejoin="round" filter="url(#b3)" opacity="0.9"/>
<path d="M995.3,1609 L1020,1618 L1043.4,1623.5 L1070,1620 L1105.9,1615" fill="none" stroke="#111" stroke-width="3" stroke-linejoin="round" stroke-linecap="round"/>
<text x="844.38" y="1480.5" font-size="27.8" fill="#fff" text-anchor="start" font-weight="normal"  textLength="219.47" lengthAdjust="spacingAndGlyphs">Crack-bridging by</text>
<text x="843.29" y="1512.9" font-size="27.8" fill="#fff" text-anchor="start" ><tspan>unfractured Cr</tspan><tspan font-size="18.9" dy="7.51">7</tspan><tspan dy="-7.51">C</tspan><tspan font-size="18.9" dy="7.51">3</tspan></text>
<line x1="954.5" y1="1529.7" x2="938.01" y2="1584.79" stroke="#fff" stroke-width="2.4" stroke-dasharray="7 4"/>
<path d="M934,1598.2 L931.31,1582.78 L944.72,1586.79Z" fill="#fff" stroke="none" stroke-width="1" />
<line x1="951" y1="1436" x2="954" y2="1446" stroke="#fff" stroke-width="2.4" stroke-dasharray="7 4"/>
<line x1="995" y1="1436" x2="980" y2="1446" stroke="#fff" stroke-width="2.4" stroke-dasharray="7 4"/>
<text x="992.77" y="1670" font-size="33" fill="#fff" text-anchor="start" font-weight="normal"  textLength="110.4" lengthAdjust="spacingAndGlyphs">500 nm</text>
<rect x="1022.2" y="1677" width="47.6" height="5.5" fill="#fff" />
</g>
<text x="769.6" y="1477.6" font-size="43" font-weight="bold" fill="#000">e<tspan font-size="29.5" dy="10.5">4</tspan></text>
<g clip-path="url(#ce5)">
<rect x="1116" y="1166" width="338" height="250.5" fill="#727272" />
<path d="M1110,1160 C1125,1148.33 1186.67,1153.33 1200,1160 C1213.33,1166.67 1200,1189.17 1190,1200 C1180,1210.83 1153.33,1220 1140,1225 C1126.67,1230 1115,1240.83 1110,1230 C1105,1219.17 1095,1171.67 1110,1160Z" fill="#6a6a6a" filter="url(#b10)" />
<path d="M1363,1177 C1375.5,1172.33 1403.83,1172.33 1420,1172 C1436.17,1171.67 1453.33,1153.67 1460,1175 C1466.67,1196.33 1466.67,1279.83 1460,1300 C1453.33,1320.17 1429.67,1297.33 1420,1296 C1410.33,1294.67 1408.83,1297.67 1402,1292 C1395.17,1286.33 1388.5,1270.33 1379,1262 C1369.5,1253.67 1352.67,1247.67 1345,1242 C1337.33,1236.33 1333,1235 1333,1228 C1333,1221 1340,1208.5 1345,1200 C1350,1191.5 1350.5,1181.67 1363,1177Z" fill="#545454" filter="url(#b6)" />
<path d="M1139,1292 C1145.83,1282.83 1164.83,1285.33 1180,1285 C1195.17,1284.67 1214,1287.5 1230,1290 C1246,1292.5 1264.33,1293.33 1276,1300 C1287.67,1306.67 1299.33,1322.5 1300,1330 C1300.67,1337.5 1291.67,1343.67 1280,1345 C1268.33,1346.33 1246.67,1339.5 1230,1338 C1213.33,1336.5 1195.17,1335.67 1180,1336 C1164.83,1336.33 1145.83,1347.33 1139,1340 C1132.17,1332.67 1132.17,1301.17 1139,1292Z" fill="#606060" filter="url(#b8)" />
<path d="M1145,1250 C1145.33,1246.33 1153.33,1239.17 1160,1236 C1166.67,1232.83 1176.33,1232.33 1185,1231 C1193.67,1229.67 1202.83,1227.17 1212,1228 C1221.17,1228.83 1231.67,1232 1240,1236 C1248.33,1240 1261.17,1247 1262,1252 C1262.83,1257 1252.83,1266.33 1245,1266 C1237.17,1265.67 1225,1252.67 1215,1250 C1205,1247.33 1194.5,1248.67 1185,1250 C1175.5,1251.33 1164.67,1258 1158,1258 C1151.33,1258 1144.67,1253.67 1145,1250Z" fill="#a0a0a0" filter="url(#b4)" />
<path d="M1110,1226 C1113,1215.33 1123,1226 1128,1230 C1133,1234 1136.67,1243 1140,1250 C1143.33,1257 1147,1265 1148,1272 C1149,1279 1152.33,1288.33 1146,1292 C1139.67,1295.67 1116,1305 1110,1294 C1104,1283 1107,1236.67 1110,1226Z" fill="#b6b6b6" filter="url(#b3)" />
<ellipse cx="1330" cy="1284" rx="72" ry="50" fill="#929292" filter="url(#b6)" />
<ellipse cx="1295" cy="1262" rx="40" ry="25" fill="#a0a0a0" filter="url(#b8)" />
<path d="M1260,1285 C1266.33,1284.17 1285.83,1297.5 1300,1305 C1314.17,1312.5 1333.33,1323.33 1345,1330 C1356.67,1336.67 1372.5,1341.67 1370,1345 C1367.5,1348.33 1344.17,1350.83 1330,1350 C1315.83,1349.17 1296.33,1346.67 1285,1340 C1273.67,1333.33 1266.17,1319.17 1262,1310 C1257.83,1300.83 1253.67,1285.83 1260,1285Z" fill="#808080" filter="url(#b8)" />
<path d="M1110,1349 C1118.67,1334.5 1145.75,1337.67 1162,1335 C1178.25,1332.33 1192.33,1332.17 1207.5,1333 C1222.67,1333.83 1239.65,1336.17 1253,1340 C1266.35,1343.83 1278.02,1348.83 1287.6,1356 C1297.18,1363.17 1305.6,1372 1310.5,1383 C1315.4,1394 1350.42,1415.5 1317,1422 C1283.58,1428.5 1144.5,1434.17 1110,1422 C1075.5,1409.83 1101.33,1363.5 1110,1349Z" fill="#787878" filter="url(#b2)" />
<path d="M1345,1422 C1326.67,1416.67 1346.17,1400.25 1350,1390 C1353.83,1379.75 1359.33,1371.17 1368,1360.5 C1376.67,1349.83 1391.67,1334.08 1402,1326 C1412.33,1317.92 1420.33,1315.33 1430,1312 C1439.67,1308.67 1455,1287.67 1460,1306 C1465,1324.33 1479.17,1402.67 1460,1422 C1440.83,1441.33 1363.33,1427.33 1345,1422Z" fill="#7e7e7e" filter="url(#b2)" />
<path d="M1317,1350 C1322.17,1343.33 1337.5,1343.33 1345,1345 C1352.5,1346.67 1361.17,1351.67 1362,1360 C1362.83,1368.33 1352.83,1384.67 1350,1395 C1347.17,1405.33 1350.5,1417.5 1345,1422 C1339.5,1426.5 1322.17,1428.17 1317,1422 C1311.83,1415.83 1314,1397 1314,1385 C1314,1373 1311.83,1356.67 1317,1350Z" fill="#545454" filter="url(#b4)" />
<path d="M1141,1264 L1150,1253 L1162,1246 L1180,1245 L1185,1248 L1208,1240 L1212,1239 L1208,1243 L1185,1251 L1180,1248 L1163,1250 L1152,1257 L1144,1266Z" fill="#1c1c1c"/>
<path d="M1237.3,1282.7 L1253.3,1278 L1273.9,1271.3 L1299,1298.7 L1322,1317 L1344.8,1322.7 L1360.9,1336.5 L1379.2,1323.9 L1402,1321.6 L1413.5,1307.9 L1420.4,1296.4" transform="translate(0,-4)" fill="none" stroke="#e8e8e8" stroke-width="5" stroke-linejoin="round" filter="url(#b3)" opacity="0.9"/>
<path d="M1237.3,1282.7 L1253.3,1278 L1273.9,1271.3 L1299,1298.7 L1322,1317 L1344.8,1322.7 L1360.9,1336.5 L1379.2,1323.9 L1402,1321.6 L1413.5,1307.9 L1420.4,1296.4" fill="none" stroke="#222" stroke-width="1.6" stroke-linejoin="round" stroke-linecap="round"/>
<path d="M1420,1297 Q1428,1289 1440,1289 L1454,1289 L1454,1294 L1436,1294 Q1426,1295 1421,1300Z" fill="#1a1a1a"/>
<line x1="1110" y1="1360" x2="1224.29" y2="1284.38" stroke="#fff" stroke-width="2.6" stroke-dasharray="7.5 4.5"/>
<path d="M1236.8,1276.1 L1228.43,1290.63 L1220.15,1278.12Z" fill="#fff" stroke="none" stroke-width="1" />
<text x="1337.36" y="1398.3" font-size="33" fill="#fff" text-anchor="start" font-weight="normal"  textLength="111.3" lengthAdjust="spacingAndGlyphs">500 nm</text>
<rect x="1363" y="1405.3" width="53.9" height="5.2" fill="#fff" />
</g>
<text x="1122.5" y="1204.6" font-size="43" font-weight="bold" fill="#000">e<tspan font-size="29.5" dy="10.5">5</tspan></text>
<g clip-path="url(#ce6)">
<rect x="1116" y="1438.3" width="338" height="251.3" fill="#464646" />
<path d="M1110,1515 C1125,1510.5 1171.67,1532.5 1200,1535 C1228.33,1537.5 1258.33,1528.33 1280,1530 C1301.67,1531.67 1326.67,1537.5 1330,1545 C1333.33,1552.5 1315,1569.17 1300,1575 C1285,1580.83 1260,1581.5 1240,1580 C1220,1578.5 1201.67,1569 1180,1566 C1158.33,1563 1121.67,1570.5 1110,1562 C1098.33,1553.5 1095,1519.5 1110,1515Z" fill="#606060" filter="url(#b5)" />
<path d="M1110,1432 C1150.33,1417.17 1312.17,1425.67 1352,1432 C1391.83,1438.33 1351,1458.67 1349,1470 C1347,1481.33 1343.83,1492.67 1340,1500 C1336.17,1507.33 1332.67,1509.67 1326,1514 C1319.33,1518.33 1307.83,1523.17 1300,1526 C1292.17,1528.83 1289,1529.17 1279,1531 C1269,1532.83 1251.67,1535.58 1240,1537 C1228.33,1538.42 1222.33,1540.17 1209,1539.5 C1195.67,1538.83 1173.17,1535.25 1160,1533 C1146.83,1530.75 1138.33,1528 1130,1526 C1121.67,1524 1113.33,1536.67 1110,1521 C1106.67,1505.33 1069.67,1446.83 1110,1432Z" fill="#888888" filter="url(#b1_5)" />
<ellipse cx="1470" cy="1455" rx="113" ry="101" fill="#8c8c8c" filter="url(#b1_5)" />
<path d="M1110,1561 C1116.67,1538.67 1138.17,1560 1150,1561 C1161.83,1562 1166.5,1564.33 1181,1567 C1195.5,1569.67 1224.5,1573.5 1237,1577 C1249.5,1580.5 1248.83,1581.5 1256,1588 C1263.17,1594.5 1273,1607.33 1280,1616 C1287,1624.67 1292.67,1631.83 1298,1640 C1303.33,1648.17 1308,1655.83 1312,1665 C1316,1674.17 1355.67,1690 1322,1695 C1288.33,1700 1145.33,1717.33 1110,1695 C1074.67,1672.67 1103.33,1583.33 1110,1561Z" fill="#868686" filter="url(#b1_2)" />
<ellipse cx="1160" cy="1640" rx="90" ry="60" fill="#8c8c8c" filter="url(#b20)" />
<ellipse cx="1397" cy="1645" rx="62" ry="60" fill="#949494" filter="url(#b2_5)" />
<ellipse cx="1397" cy="1652" rx="52" ry="50" fill="#8e8e8e" filter="url(#b3)" />
<path d="M1250,1590 C1256.67,1586.67 1285,1583.33 1300,1585 C1315,1586.67 1335,1595 1340,1600 C1345,1605 1338.33,1613 1330,1615 C1321.67,1617 1301.67,1613.67 1290,1612 C1278.33,1610.33 1266.67,1608.67 1260,1605 C1253.33,1601.33 1243.33,1593.33 1250,1590Z" fill="#545454" filter="url(#b6)" />
<path d="M1116,1559.1 L1150,1561 L1181,1566.3 L1210,1572 L1237,1578.5" transform="translate(0,-3)" fill="none" stroke="#e8e8e8" stroke-width="3" stroke-linejoin="round" filter="url(#b3)" opacity="0.9"/>
<path d="M1116,1559.1 L1150,1561 L1181,1566.3 L1210,1572 L1237,1578.5" fill="none" stroke="#111" stroke-width="2.2" stroke-linejoin="round" stroke-linecap="round"/>
<path d="M1240,1579 Q1270,1570 1300,1580 T1335,1594" stroke="#2a2a2a" stroke-width="1.8" fill="none"/>
<text x="1170.97" y="1478" font-size="27.8" fill="#fff" text-anchor="start" font-weight="normal"  textLength="278.4" lengthAdjust="spacingAndGlyphs">Crack deflection along</text>
<text x="1183.72" y="1510.5" font-size="27.8" fill="#fff" text-anchor="start" ><tspan>HEC/Cr</tspan><tspan font-size="18.9" dy="7.51">7</tspan><tspan dy="-7.51">C</tspan><tspan font-size="18.9" dy="7.51">3</tspan><tspan dy="-7.51"> interface</tspan></text>
<line x1="1310.2" y1="1526" x2="1247.03" y2="1566.42" stroke="#fff" stroke-width="2.6" stroke-dasharray="7.5 4.5"/>
<path d="M1234.4,1574.5 L1242.99,1560.1 L1251.08,1572.73Z" fill="#fff" stroke="none" stroke-width="1" />
<text x="1338.37" y="1670" font-size="33" fill="#fff" text-anchor="start" font-weight="normal"  textLength="110.4" lengthAdjust="spacingAndGlyphs">500 nm</text>
<rect x="1363" y="1677" width="61" height="5.7" fill="#fff" />
</g>
<text x="1123.7" y="1474.6" font-size="43" font-weight="bold" fill="#000">e<tspan font-size="29.5" dy="10.5">6</tspan></text>
<rect x="100.8" y="1158.9" width="1355.9" height="536.2" fill="none" stroke="#000" stroke-width="2.2" stroke-dasharray="7 5.3"/>
<text x="59.52" y="1168.2" font-size="43" fill="#000" text-anchor="start" font-weight="bold" >e</text>
</svg>
</body></html>
